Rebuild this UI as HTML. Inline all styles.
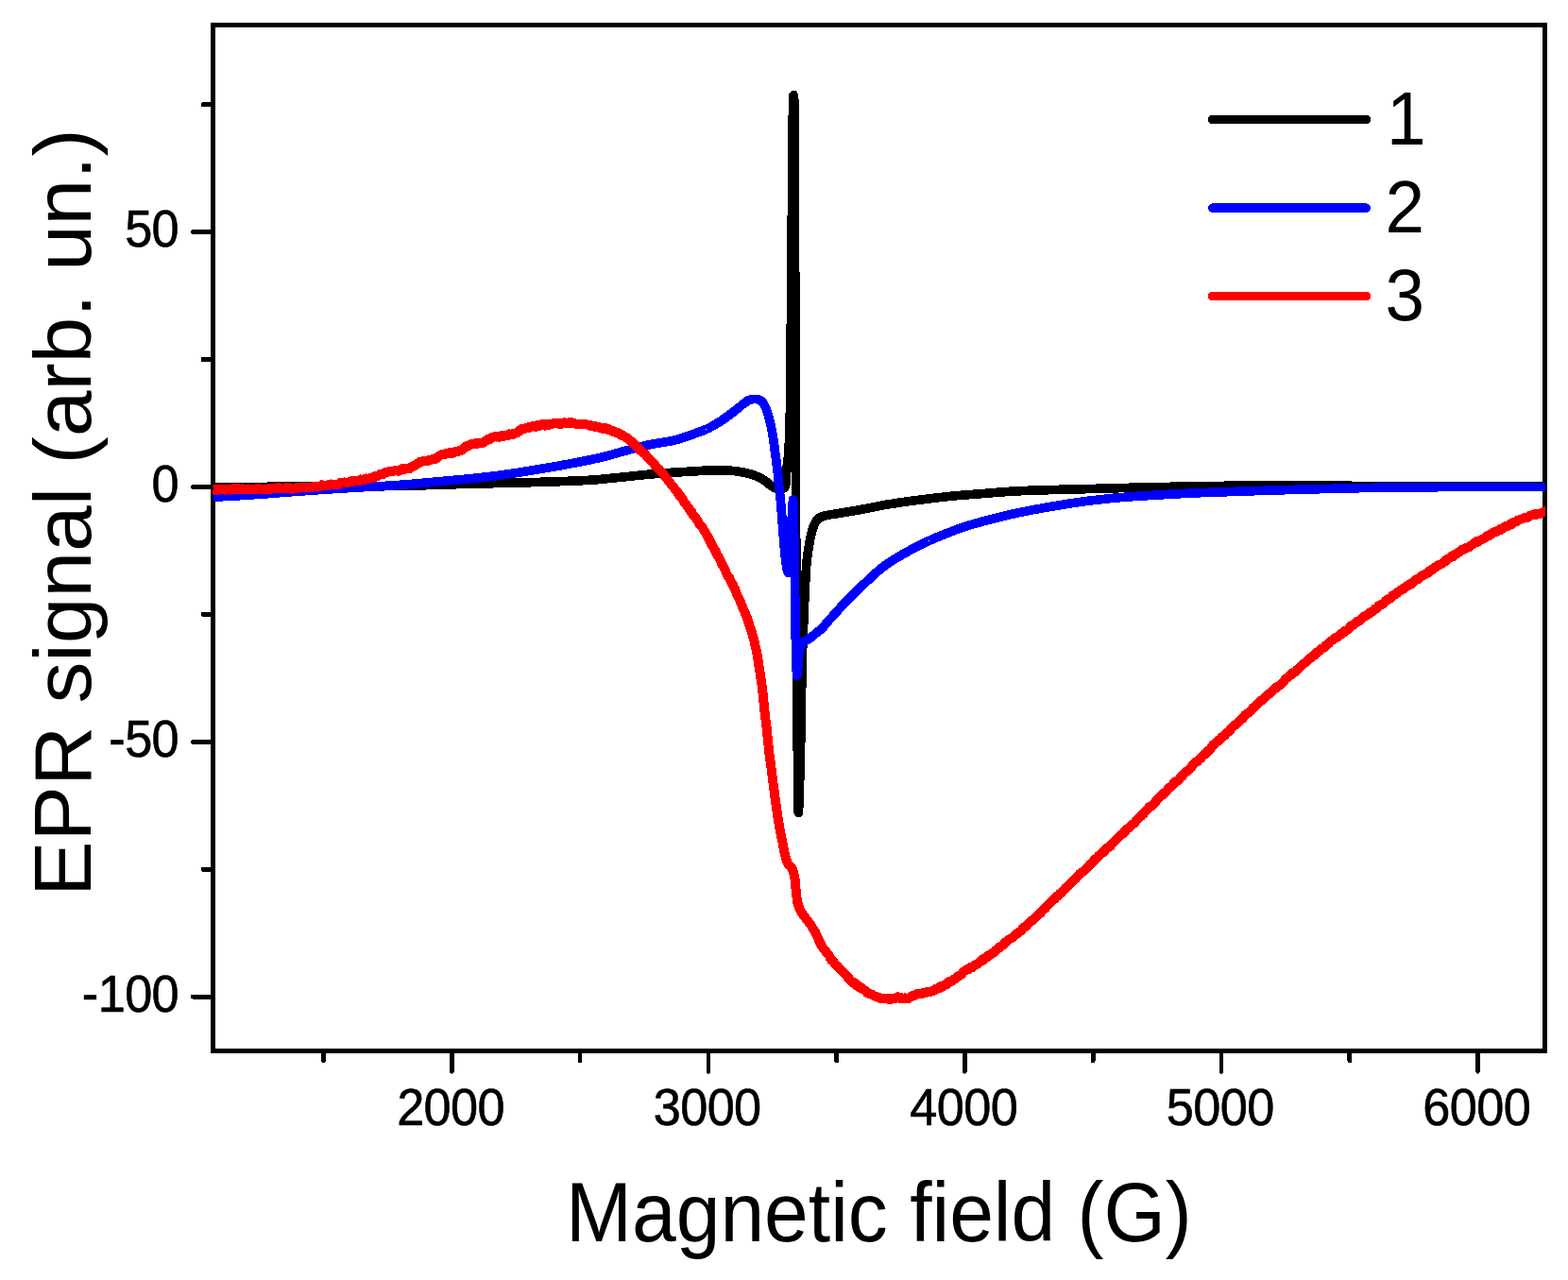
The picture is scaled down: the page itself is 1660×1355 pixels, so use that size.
<!DOCTYPE html>
<html lang="en"><head><meta charset="utf-8"><title>EPR signal vs magnetic field</title>
<style>
html,body{margin:0;padding:0;background:#fff;width:1660px;height:1355px;overflow:hidden}
svg{display:block}
text{font-family:"Liberation Sans",sans-serif;fill:#000}
</style></head><body>
<svg width="1660" height="1355" viewBox="0 0 1660 1355">
<rect width="1660" height="1355" fill="#fff"/>

<g fill="#000" shape-rendering="crispEdges">
<rect x="223.20" y="24.20" width="4.60" height="1090.70"/>
<rect x="1633.20" y="24.20" width="4.60" height="1090.70"/>
<rect x="223.20" y="24.20" width="1414.60" height="5.00"/>
<rect x="223.20" y="1109.90" width="1414.60" height="5.00"/>
</g>
<g stroke="#000" stroke-linecap="round" fill="none" shape-rendering="crispEdges">
<line x1="478.40" y1="1112.40" x2="478.40" y2="1134.50" stroke-width="4.6"/>
<line x1="749.93" y1="1112.40" x2="749.93" y2="1134.50" stroke-width="4.6"/>
<line x1="1021.46" y1="1112.40" x2="1021.46" y2="1134.50" stroke-width="4.6"/>
<line x1="1292.99" y1="1112.40" x2="1292.99" y2="1134.50" stroke-width="4.6"/>
<line x1="1564.52" y1="1112.40" x2="1564.52" y2="1134.50" stroke-width="4.6"/>
<line x1="342.63" y1="1112.40" x2="342.63" y2="1123.20" stroke-width="4.6"/>
<line x1="614.16" y1="1112.40" x2="614.16" y2="1123.20" stroke-width="4.6"/>
<line x1="885.69" y1="1112.40" x2="885.69" y2="1123.20" stroke-width="4.6"/>
<line x1="1157.22" y1="1112.40" x2="1157.22" y2="1123.20" stroke-width="4.6"/>
<line x1="1428.76" y1="1112.40" x2="1428.76" y2="1123.20" stroke-width="4.6"/>
<line x1="225.50" y1="245.70" x2="204.50" y2="245.70" stroke-width="5.0"/>
<line x1="225.50" y1="515.50" x2="204.50" y2="515.50" stroke-width="5.0"/>
<line x1="225.50" y1="785.30" x2="204.50" y2="785.30" stroke-width="5.0"/>
<line x1="225.50" y1="1055.10" x2="204.50" y2="1055.10" stroke-width="5.0"/>
<line x1="225.50" y1="110.80" x2="215.00" y2="110.80" stroke-width="5.0"/>
<line x1="225.50" y1="380.60" x2="215.00" y2="380.60" stroke-width="5.0"/>
<line x1="225.50" y1="650.40" x2="215.00" y2="650.40" stroke-width="5.0"/>
<line x1="225.50" y1="920.20" x2="215.00" y2="920.20" stroke-width="5.0"/>
</g>
<defs><clipPath id="pc"><rect x="225" y="26.7" width="1411" height="1085.7"/></clipPath></defs>
<g clip-path="url(#pc)" fill="none" stroke-linejoin="round" stroke-linecap="butt" stroke-width="9.7" shape-rendering="crispEdges">
<path stroke="#000" d="M225.5,515.5 L226.5,515.5 L227.5,515.5 L228.5,515.5 L229.5,515.5 L230.5,515.5 L231.5,515.5 L232.5,515.5 L233.5,515.5 L234.5,515.5 L235.5,515.5 L236.5,515.5 L237.5,515.5 L238.5,515.5 L239.5,515.5 L240.5,515.5 L241.5,515.5 L242.5,515.5 L243.5,515.5 L244.5,515.5 L245.5,515.5 L246.5,515.5 L247.5,515.5 L248.5,515.5 L249.5,515.5 L250.5,515.5 L251.5,515.4 L252.5,515.4 L253.5,515.4 L254.5,515.4 L255.5,515.4 L256.5,515.4 L257.5,515.4 L258.5,515.4 L259.5,515.4 L260.5,515.4 L261.5,515.4 L262.5,515.4 L263.5,515.4 L264.5,515.4 L265.5,515.4 L266.5,515.4 L267.5,515.4 L268.5,515.4 L269.5,515.4 L270.5,515.4 L271.5,515.4 L272.5,515.4 L273.5,515.4 L274.5,515.4 L275.5,515.4 L276.5,515.4 L277.5,515.4 L278.5,515.4 L279.5,515.4 L280.5,515.4 L281.5,515.4 L282.5,515.4 L283.5,515.3 L284.5,515.3 L285.5,515.3 L286.5,515.3 L287.5,515.3 L288.5,515.3 L289.5,515.3 L290.5,515.3 L291.5,515.3 L292.5,515.3 L293.5,515.3 L294.5,515.3 L295.5,515.3 L296.5,515.3 L297.5,515.3 L298.5,515.3 L299.5,515.3 L300.5,515.3 L301.5,515.3 L302.5,515.3 L303.5,515.3 L304.5,515.3 L305.5,515.3 L306.5,515.3 L307.5,515.3 L308.5,515.2 L309.5,515.2 L310.5,515.2 L311.5,515.2 L312.5,515.2 L313.5,515.2 L314.5,515.2 L315.5,515.2 L316.5,515.2 L317.5,515.2 L318.5,515.2 L319.5,515.2 L320.0,515.2 L320.5,515.2 L321.5,515.2 L322.5,515.2 L323.5,515.2 L324.5,515.2 L325.5,515.2 L326.5,515.2 L327.5,515.2 L328.5,515.2 L329.5,515.2 L330.5,515.2 L331.5,515.1 L332.5,515.1 L333.5,515.1 L334.5,515.1 L335.5,515.1 L336.5,515.1 L337.5,515.1 L338.5,515.1 L339.5,515.1 L340.5,515.1 L341.5,515.1 L342.5,515.1 L343.5,515.1 L344.5,515.1 L345.5,515.1 L346.5,515.1 L347.5,515.1 L348.5,515.1 L349.5,515.1 L350.5,515.1 L351.5,515.1 L352.5,515.0 L353.5,515.0 L354.5,515.0 L355.5,515.0 L356.5,515.0 L357.5,515.0 L358.5,515.0 L359.5,515.0 L360.5,515.0 L361.5,515.0 L362.5,515.0 L363.5,515.0 L364.5,515.0 L365.5,515.0 L366.5,515.0 L367.5,515.0 L368.5,515.0 L369.5,515.0 L370.5,514.9 L371.5,514.9 L372.5,514.9 L373.5,514.9 L374.5,514.9 L375.5,514.9 L376.5,514.9 L377.5,514.9 L378.5,514.9 L379.5,514.9 L380.5,514.9 L381.5,514.9 L382.5,514.9 L383.5,514.9 L384.5,514.8 L385.5,514.8 L386.5,514.8 L387.5,514.8 L388.5,514.8 L389.5,514.8 L390.5,514.8 L391.5,514.8 L392.5,514.8 L393.5,514.8 L394.5,514.8 L395.5,514.8 L396.5,514.7 L397.5,514.7 L398.5,514.7 L399.5,514.7 L400.5,514.7 L401.5,514.7 L402.5,514.7 L403.5,514.7 L404.5,514.7 L405.5,514.7 L406.5,514.7 L407.5,514.6 L408.5,514.6 L409.5,514.6 L410.5,514.6 L411.5,514.6 L412.5,514.6 L413.5,514.6 L414.5,514.6 L415.5,514.6 L416.5,514.5 L417.5,514.5 L418.5,514.5 L419.5,514.5 L420.0,514.5 L420.5,514.5 L421.5,514.5 L422.5,514.5 L423.5,514.4 L424.5,514.4 L425.5,514.4 L426.5,514.4 L427.5,514.4 L428.5,514.3 L429.5,514.3 L430.5,514.3 L431.5,514.3 L432.5,514.2 L433.5,514.2 L434.5,514.2 L435.5,514.2 L436.5,514.1 L437.5,514.1 L438.5,514.1 L439.5,514.0 L440.5,514.0 L441.5,514.0 L442.5,513.9 L443.5,513.9 L444.5,513.9 L445.5,513.8 L446.5,513.8 L447.5,513.8 L448.5,513.7 L449.5,513.7 L450.5,513.7 L451.5,513.6 L452.5,513.6 L453.5,513.5 L454.5,513.5 L455.5,513.5 L456.5,513.4 L457.5,513.4 L458.5,513.4 L459.5,513.3 L460.5,513.3 L461.5,513.3 L462.5,513.2 L463.5,513.2 L464.5,513.2 L465.5,513.1 L466.5,513.1 L467.5,513.1 L468.5,513.0 L469.5,513.0 L470.0,513.0 L470.5,513.0 L471.5,513.0 L472.5,512.9 L473.5,512.9 L474.5,512.9 L475.5,512.8 L476.5,512.8 L477.5,512.8 L478.5,512.8 L479.5,512.7 L480.5,512.7 L481.5,512.7 L482.5,512.7 L483.5,512.6 L484.5,512.6 L485.5,512.6 L486.5,512.6 L487.5,512.5 L488.5,512.5 L489.5,512.5 L490.5,512.5 L491.5,512.4 L492.5,512.4 L493.5,512.4 L494.5,512.4 L495.5,512.3 L496.5,512.3 L497.5,512.3 L498.5,512.2 L499.5,512.2 L500.5,512.2 L501.5,512.2 L502.5,512.1 L503.5,512.1 L504.5,512.1 L505.5,512.1 L506.5,512.0 L507.5,512.0 L508.5,512.0 L509.5,512.0 L510.5,511.9 L511.5,511.9 L512.5,511.9 L513.5,511.9 L514.5,511.8 L515.5,511.8 L516.5,511.8 L517.5,511.8 L518.5,511.7 L519.5,511.7 L520.0,511.7 L520.5,511.7 L521.5,511.7 L522.5,511.6 L523.5,511.6 L524.5,511.6 L525.5,511.6 L526.5,511.5 L527.5,511.5 L528.5,511.5 L529.5,511.5 L530.5,511.4 L531.5,511.4 L532.5,511.4 L533.5,511.4 L534.5,511.3 L535.5,511.3 L536.5,511.3 L537.5,511.3 L538.5,511.2 L539.5,511.2 L540.5,511.2 L541.5,511.2 L542.5,511.1 L543.5,511.1 L544.5,511.1 L545.5,511.1 L546.5,511.0 L547.5,511.0 L548.5,511.0 L549.5,511.0 L550.5,510.9 L551.5,510.9 L552.5,510.9 L553.5,510.9 L554.5,510.8 L555.5,510.8 L556.5,510.8 L557.5,510.8 L558.5,510.7 L559.5,510.7 L560.5,510.7 L561.5,510.7 L562.5,510.6 L563.5,510.6 L564.5,510.6 L565.5,510.5 L566.5,510.5 L567.5,510.5 L568.5,510.4 L569.5,510.4 L570.0,510.4 L570.5,510.4 L571.5,510.4 L572.5,510.3 L573.5,510.3 L574.5,510.3 L575.5,510.2 L576.5,510.2 L577.5,510.2 L578.5,510.1 L579.5,510.1 L580.5,510.1 L581.5,510.0 L582.5,510.0 L583.5,510.0 L584.5,509.9 L585.5,509.9 L586.5,509.9 L587.5,509.8 L588.5,509.8 L589.5,509.8 L590.5,509.7 L591.5,509.7 L592.5,509.7 L593.5,509.6 L594.5,509.6 L595.5,509.6 L596.5,509.5 L597.5,509.5 L598.5,509.5 L599.5,509.4 L600.5,509.4 L601.5,509.3 L602.5,509.3 L603.5,509.3 L604.5,509.2 L605.5,509.2 L606.5,509.1 L607.5,509.1 L608.5,509.1 L609.5,509.0 L610.5,509.0 L611.5,508.9 L612.5,508.9 L613.5,508.8 L614.5,508.8 L615.5,508.7 L616.5,508.7 L617.5,508.6 L618.5,508.6 L619.5,508.5 L620.5,508.5 L621.5,508.4 L622.5,508.4 L623.5,508.3 L624.5,508.2 L625.5,508.2 L626.5,508.1 L627.5,508.1 L628.5,508.0 L629.5,507.9 L630.0,507.9 L630.5,507.9 L631.5,507.8 L632.5,507.7 L633.5,507.6 L634.5,507.5 L635.5,507.4 L636.5,507.3 L637.5,507.2 L638.5,507.1 L639.5,507.0 L640.0,506.9 L640.5,506.9 L641.5,506.8 L642.5,506.7 L643.5,506.6 L644.5,506.5 L645.5,506.4 L646.5,506.3 L647.5,506.2 L648.5,506.1 L649.5,506.0 L650.5,505.9 L651.5,505.8 L652.5,505.7 L653.5,505.6 L654.5,505.5 L655.5,505.4 L656.5,505.3 L657.5,505.2 L658.5,505.1 L659.5,505.0 L660.5,504.9 L661.5,504.8 L662.5,504.7 L663.5,504.6 L664.2,504.5 L664.5,504.5 L665.5,504.4 L666.5,504.3 L667.5,504.2 L668.5,504.1 L669.5,503.9 L670.5,503.8 L671.5,503.7 L672.5,503.6 L673.5,503.5 L674.5,503.4 L675.5,503.3 L676.5,503.2 L677.5,503.1 L678.5,503.0 L679.5,502.9 L680.5,502.8 L681.5,502.7 L682.5,502.6 L683.5,502.5 L684.5,502.4 L685.5,502.3 L686.5,502.2 L687.5,502.1 L688.4,502.0 L688.5,502.0 L689.5,501.9 L690.5,501.8 L691.5,501.7 L692.5,501.7 L693.5,501.6 L694.5,501.5 L695.5,501.4 L696.5,501.3 L697.5,501.3 L698.5,501.2 L699.5,501.1 L700.5,501.0 L701.5,501.0 L702.5,500.9 L703.5,500.8 L704.5,500.7 L705.5,500.7 L706.5,500.6 L707.5,500.5 L708.5,500.5 L709.5,500.4 L710.5,500.3 L711.5,500.3 L712.5,500.2 L712.6,500.2 L713.5,500.1 L714.5,500.1 L715.5,500.0 L716.5,500.0 L717.5,499.9 L718.5,499.8 L719.5,499.8 L720.5,499.7 L721.5,499.7 L722.5,499.6 L723.5,499.6 L724.5,499.5 L725.5,499.5 L726.5,499.4 L727.5,499.3 L728.5,499.3 L729.5,499.2 L730.5,499.2 L731.5,499.1 L732.5,499.1 L733.5,499.0 L734.5,498.9 L735.5,498.9 L736.5,498.8 L736.9,498.8 L737.5,498.8 L738.5,498.7 L739.5,498.6 L740.5,498.5 L741.5,498.5 L742.5,498.4 L743.5,498.3 L744.5,498.2 L745.5,498.2 L746.5,498.1 L747.5,498.1 L748.5,498.0 L749.0,498.0 L749.5,498.0 L750.5,498.0 L751.5,497.9 L752.5,497.9 L753.5,497.9 L754.5,497.9 L755.5,497.9 L756.5,497.8 L757.5,497.8 L758.5,497.8 L759.5,497.8 L760.5,497.8 L761.1,497.8 L761.5,497.8 L762.5,497.8 L763.5,497.8 L764.5,497.8 L765.5,497.9 L766.5,497.9 L767.5,497.9 L768.5,498.0 L769.5,498.0 L770.5,498.1 L771.5,498.1 L772.5,498.2 L773.2,498.2 L773.5,498.2 L774.5,498.3 L775.5,498.4 L776.5,498.5 L777.5,498.6 L778.5,498.7 L779.5,498.9 L780.5,499.0 L781.5,499.2 L782.5,499.3 L783.5,499.5 L784.5,499.7 L785.3,499.8 L785.5,499.8 L786.5,500.0 L787.5,500.2 L788.5,500.4 L789.5,500.6 L790.5,500.9 L791.5,501.1 L792.5,501.4 L793.5,501.6 L794.5,501.9 L795.5,502.2 L796.5,502.5 L797.4,502.8 L797.5,502.8 L798.5,503.2 L799.5,503.6 L800.5,504.0 L801.5,504.4 L802.5,504.8 L803.5,505.3 L804.5,505.8 L805.5,506.4 L806.5,506.9 L807.5,507.5 L808.5,508.1 L809.5,508.7 L810.5,509.4 L811.5,510.2 L812.5,511.0 L813.5,511.9 L814.5,512.8 L815.5,513.5 L816.5,514.2 L817.5,514.9 L818.5,515.6 L819.5,516.2 L820.4,516.5 L820.5,516.5 L821.5,516.8 L822.5,517.0 L823.5,517.3 L824.5,517.4 L825.5,517.5 L826.0,517.5 L826.5,517.5 L827.5,517.4 L828.5,517.1 L829.5,516.7 L830.0,516.5 L830.5,516.1 L831.5,513.9 L832.0,512.0 L832.5,502.8 L832.8,497.0 L833.5,490.9 L834.5,483.0 L835.5,466.7 L835.7,462.0 L836.5,432.4 L836.8,415.0 L837.5,326.6 L837.7,300.0 L838.5,214.1 L838.6,200.0 L838.9,140.0 L839.5,117.4 L839.7,112.0 L840.1,100.7 L840.5,102.0 L841.1,112.0 L841.3,250.0 L841.5,276.2 L842.2,330.0 L842.4,500.0 L842.5,535.1 L842.8,600.0 L843.5,714.9 L843.8,750.0 L844.5,806.0 L844.7,820.0 L845.3,860.3 L845.5,858.7 L846.2,840.0 L846.5,831.6 L847.4,800.0 L847.5,795.6 L848.5,736.1 L849.2,700.0 L849.5,690.2 L850.5,664.8 L850.7,660.0 L851.5,640.6 L852.5,618.9 L852.6,617.0 L853.5,601.5 L853.8,597.7 L854.5,590.9 L855.5,583.4 L856.3,578.4 L856.5,577.2 L857.5,571.5 L858.5,566.7 L859.2,563.8 L859.5,562.7 L860.5,559.3 L861.5,556.5 L862.3,554.7 L862.5,554.3 L863.5,552.6 L864.5,551.1 L865.5,550.0 L866.0,549.5 L866.5,549.1 L867.5,548.3 L868.5,547.6 L869.5,547.1 L870.3,546.8 L870.5,546.7 L871.5,546.4 L872.5,546.2 L873.5,545.9 L874.5,545.7 L875.5,545.5 L876.5,545.3 L877.5,545.1 L878.5,544.9 L879.5,544.7 L880.5,544.6 L881.5,544.5 L882.5,544.3 L883.5,544.2 L884.5,544.0 L885.5,543.9 L886.5,543.7 L887.5,543.6 L888.4,543.4 L888.5,543.4 L889.5,543.2 L890.5,543.0 L891.5,542.8 L892.5,542.7 L893.5,542.5 L894.5,542.3 L895.5,542.2 L896.5,542.0 L897.5,541.8 L898.5,541.6 L899.5,541.5 L900.5,541.3 L901.5,541.1 L902.5,541.0 L903.5,540.8 L904.5,540.6 L905.5,540.5 L906.5,540.3 L907.5,540.1 L908.5,539.9 L909.5,539.8 L910.5,539.6 L911.5,539.4 L912.5,539.2 L912.6,539.2 L913.5,539.0 L914.5,538.8 L915.5,538.7 L916.5,538.5 L917.5,538.3 L918.5,538.1 L919.5,537.9 L920.5,537.7 L921.5,537.5 L922.5,537.3 L923.5,537.1 L924.5,536.9 L925.5,536.7 L926.5,536.5 L927.5,536.3 L928.5,536.1 L929.5,535.9 L930.5,535.7 L931.5,535.5 L932.5,535.3 L933.5,535.1 L934.5,534.9 L935.5,534.7 L936.5,534.6 L936.9,534.5 L937.5,534.4 L938.5,534.2 L939.5,534.1 L940.5,533.9 L941.5,533.7 L942.5,533.6 L943.5,533.4 L944.5,533.3 L945.5,533.1 L946.5,532.9 L947.5,532.8 L948.5,532.6 L949.5,532.5 L950.5,532.3 L951.5,532.2 L952.5,532.0 L953.5,531.9 L954.5,531.7 L955.5,531.6 L956.5,531.4 L957.5,531.3 L958.5,531.2 L959.5,531.0 L960.5,530.9 L961.1,530.8 L961.5,530.7 L962.5,530.6 L963.5,530.5 L964.5,530.3 L965.5,530.2 L966.5,530.1 L967.5,529.9 L968.5,529.8 L969.5,529.7 L970.5,529.5 L971.5,529.4 L972.5,529.3 L973.5,529.2 L974.5,529.0 L975.5,528.9 L976.5,528.8 L977.5,528.6 L978.5,528.5 L979.5,528.4 L980.5,528.3 L981.5,528.2 L982.5,528.0 L983.5,527.9 L984.5,527.8 L985.3,527.7 L985.5,527.7 L986.5,527.6 L987.5,527.4 L988.5,527.3 L989.5,527.2 L990.5,527.1 L991.5,527.0 L992.5,526.8 L993.5,526.7 L994.5,526.6 L995.5,526.5 L996.5,526.4 L997.5,526.3 L998.5,526.1 L999.5,526.0 L1000.5,525.9 L1001.5,525.8 L1002.5,525.7 L1003.5,525.6 L1004.5,525.5 L1005.5,525.4 L1006.5,525.3 L1007.5,525.2 L1008.5,525.1 L1009.5,525.0 L1010.5,524.9 L1011.5,524.8 L1012.5,524.7 L1013.5,524.6 L1014.5,524.6 L1015.5,524.5 L1016.5,524.4 L1017.5,524.3 L1018.5,524.2 L1019.5,524.1 L1020.5,524.1 L1021.5,524.0 L1022.5,523.9 L1023.5,523.8 L1024.5,523.8 L1025.5,523.7 L1026.5,523.6 L1027.5,523.5 L1028.5,523.5 L1029.5,523.4 L1030.5,523.3 L1031.5,523.2 L1032.5,523.2 L1033.5,523.1 L1034.5,523.0 L1035.5,522.9 L1036.5,522.9 L1037.5,522.8 L1038.5,522.7 L1039.5,522.6 L1040.0,522.6 L1040.5,522.6 L1041.5,522.5 L1042.5,522.4 L1043.5,522.3 L1044.5,522.2 L1045.5,522.2 L1046.5,522.1 L1047.5,522.0 L1048.5,521.9 L1049.5,521.8 L1050.5,521.7 L1051.5,521.6 L1052.5,521.6 L1053.5,521.5 L1054.5,521.4 L1055.5,521.3 L1056.5,521.2 L1057.5,521.1 L1058.5,521.1 L1059.5,521.0 L1060.5,520.9 L1061.5,520.8 L1062.5,520.7 L1063.5,520.7 L1064.5,520.6 L1065.5,520.5 L1066.5,520.4 L1067.5,520.4 L1068.5,520.3 L1069.5,520.2 L1070.5,520.2 L1071.5,520.1 L1072.5,520.0 L1073.5,520.0 L1074.5,519.9 L1075.5,519.9 L1076.5,519.8 L1077.1,519.8 L1077.5,519.8 L1078.5,519.7 L1079.5,519.7 L1080.5,519.7 L1081.5,519.6 L1082.5,519.6 L1083.5,519.5 L1084.5,519.5 L1085.5,519.4 L1086.5,519.4 L1087.5,519.4 L1088.5,519.3 L1089.5,519.3 L1090.5,519.3 L1091.5,519.2 L1092.5,519.2 L1093.5,519.2 L1094.5,519.1 L1095.5,519.1 L1096.5,519.0 L1097.5,519.0 L1098.5,519.0 L1099.5,519.0 L1100.5,518.9 L1101.5,518.9 L1102.5,518.9 L1103.5,518.8 L1104.5,518.8 L1105.5,518.8 L1106.5,518.7 L1107.5,518.7 L1108.5,518.7 L1109.5,518.7 L1110.5,518.6 L1111.5,518.6 L1112.5,518.6 L1113.5,518.5 L1114.5,518.5 L1115.5,518.5 L1116.5,518.5 L1117.5,518.4 L1118.5,518.4 L1119.5,518.4 L1120.5,518.4 L1121.5,518.3 L1122.5,518.3 L1123.5,518.3 L1124.5,518.3 L1125.5,518.2 L1126.5,518.2 L1127.5,518.2 L1128.5,518.2 L1129.5,518.1 L1130.5,518.1 L1131.5,518.1 L1132.5,518.1 L1133.5,518.0 L1134.5,518.0 L1135.5,518.0 L1136.5,518.0 L1137.5,517.9 L1138.5,517.9 L1139.5,517.9 L1140.5,517.9 L1141.5,517.8 L1142.5,517.8 L1143.5,517.8 L1144.5,517.8 L1145.5,517.7 L1146.5,517.7 L1147.5,517.7 L1148.5,517.7 L1149.5,517.6 L1150.5,517.6 L1151.5,517.6 L1152.5,517.5 L1153.5,517.5 L1154.2,517.5 L1154.5,517.5 L1155.5,517.5 L1156.5,517.4 L1157.5,517.4 L1158.5,517.4 L1159.5,517.4 L1160.5,517.3 L1161.5,517.3 L1162.5,517.3 L1163.5,517.2 L1164.5,517.2 L1165.5,517.2 L1166.5,517.2 L1167.5,517.1 L1168.5,517.1 L1169.5,517.1 L1170.5,517.0 L1171.5,517.0 L1172.5,517.0 L1173.5,517.0 L1174.5,516.9 L1175.5,516.9 L1176.5,516.9 L1177.5,516.8 L1178.5,516.8 L1179.5,516.8 L1180.5,516.8 L1181.5,516.7 L1182.5,516.7 L1183.5,516.7 L1184.5,516.6 L1185.5,516.6 L1186.5,516.6 L1187.5,516.6 L1188.5,516.5 L1189.5,516.5 L1190.5,516.5 L1191.5,516.5 L1192.5,516.4 L1193.5,516.4 L1194.5,516.4 L1195.5,516.3 L1196.5,516.3 L1197.5,516.3 L1198.5,516.3 L1199.5,516.2 L1200.5,516.2 L1201.5,516.2 L1202.5,516.2 L1203.5,516.1 L1204.5,516.1 L1205.5,516.1 L1206.5,516.1 L1207.5,516.0 L1208.5,516.0 L1209.5,516.0 L1210.5,516.0 L1211.5,515.9 L1212.5,515.9 L1213.5,515.9 L1214.5,515.9 L1215.5,515.8 L1216.5,515.8 L1217.5,515.8 L1218.5,515.8 L1219.5,515.7 L1220.5,515.7 L1221.5,515.7 L1222.5,515.7 L1223.5,515.7 L1224.5,515.6 L1225.5,515.6 L1226.5,515.6 L1227.5,515.6 L1228.5,515.6 L1229.5,515.5 L1230.5,515.5 L1231.3,515.5 L1231.5,515.5 L1232.5,515.5 L1233.5,515.5 L1234.5,515.4 L1235.5,515.4 L1236.5,515.4 L1237.5,515.4 L1238.5,515.4 L1239.5,515.3 L1240.5,515.3 L1241.5,515.3 L1242.5,515.3 L1243.5,515.3 L1244.5,515.2 L1245.5,515.2 L1246.5,515.2 L1247.5,515.2 L1248.5,515.1 L1249.5,515.1 L1250.5,515.1 L1251.5,515.1 L1252.5,515.1 L1253.5,515.0 L1254.5,515.0 L1255.5,515.0 L1256.5,515.0 L1257.5,515.0 L1258.5,514.9 L1259.5,514.9 L1260.5,514.9 L1261.5,514.9 L1262.5,514.9 L1263.5,514.8 L1264.5,514.8 L1265.5,514.8 L1266.5,514.8 L1267.5,514.8 L1268.5,514.7 L1269.5,514.7 L1270.5,514.7 L1271.5,514.7 L1272.5,514.7 L1273.5,514.6 L1274.5,514.6 L1275.5,514.6 L1276.5,514.6 L1277.5,514.6 L1278.5,514.6 L1279.5,514.5 L1280.5,514.5 L1281.5,514.5 L1282.5,514.5 L1283.5,514.5 L1284.5,514.5 L1285.5,514.5 L1286.5,514.4 L1287.5,514.4 L1288.5,514.4 L1289.5,514.4 L1290.5,514.4 L1291.5,514.4 L1292.5,514.4 L1293.5,514.4 L1294.5,514.4 L1295.5,514.4 L1296.5,514.3 L1297.5,514.3 L1298.5,514.3 L1299.5,514.3 L1300.5,514.3 L1301.5,514.3 L1302.5,514.3 L1303.5,514.3 L1304.5,514.3 L1305.5,514.3 L1306.5,514.3 L1307.5,514.3 L1308.4,514.3 L1308.5,514.3 L1309.5,514.3 L1310.5,514.3 L1311.5,514.3 L1312.5,514.3 L1313.5,514.3 L1314.5,514.3 L1315.5,514.3 L1316.5,514.3 L1317.5,514.3 L1318.5,514.3 L1319.5,514.3 L1320.5,514.3 L1321.5,514.3 L1322.5,514.3 L1323.5,514.3 L1324.5,514.3 L1325.5,514.3 L1326.5,514.3 L1327.5,514.3 L1328.5,514.3 L1329.5,514.3 L1330.5,514.3 L1331.5,514.3 L1332.5,514.3 L1333.5,514.3 L1334.5,514.3 L1335.5,514.3 L1336.5,514.3 L1337.5,514.3 L1338.5,514.3 L1339.5,514.3 L1340.5,514.3 L1341.5,514.3 L1342.5,514.3 L1343.5,514.3 L1344.5,514.3 L1345.5,514.3 L1346.5,514.3 L1347.5,514.3 L1348.5,514.3 L1349.5,514.3 L1350.5,514.3 L1351.5,514.3 L1352.5,514.3 L1353.5,514.3 L1354.5,514.3 L1355.5,514.3 L1356.5,514.3 L1357.5,514.3 L1358.5,514.3 L1359.5,514.3 L1360.5,514.3 L1361.5,514.3 L1362.5,514.3 L1363.5,514.3 L1364.5,514.3 L1365.5,514.3 L1366.5,514.3 L1367.5,514.3 L1368.5,514.3 L1369.5,514.3 L1370.5,514.3 L1371.5,514.3 L1372.5,514.3 L1373.5,514.3 L1374.5,514.3 L1375.5,514.3 L1376.5,514.3 L1377.5,514.3 L1378.5,514.3 L1379.5,514.3 L1380.5,514.3 L1381.5,514.3 L1382.5,514.3 L1383.5,514.3 L1384.5,514.3 L1385.5,514.3 L1386.5,514.3 L1387.5,514.3 L1388.5,514.3 L1389.5,514.3 L1390.5,514.3 L1391.5,514.3 L1392.5,514.3 L1393.5,514.3 L1394.5,514.3 L1395.5,514.3 L1396.5,514.3 L1397.5,514.3 L1398.5,514.3 L1399.5,514.3 L1400.0,514.3 L1400.5,514.3 L1401.5,514.3 L1402.5,514.3 L1403.5,514.3 L1404.5,514.3 L1405.5,514.3 L1406.5,514.3 L1407.5,514.3 L1408.5,514.3 L1409.5,514.3 L1410.5,514.3 L1411.5,514.3 L1412.5,514.3 L1413.5,514.3 L1414.5,514.3 L1415.5,514.3 L1416.5,514.3 L1417.5,514.3 L1418.5,514.3 L1419.5,514.3 L1420.5,514.3 L1421.5,514.3 L1422.5,514.3 L1423.5,514.3 L1424.5,514.3 L1425.5,514.3 L1426.5,514.3 L1427.5,514.3 L1428.5,514.3 L1429.5,514.3 L1430.5,514.3 L1431.5,514.4 L1432.5,514.4 L1433.5,514.4 L1434.5,514.4 L1435.5,514.4 L1436.5,514.4 L1437.5,514.4 L1438.5,514.4 L1439.5,514.4 L1440.5,514.4 L1441.5,514.4 L1442.5,514.4 L1443.5,514.4 L1444.5,514.4 L1445.5,514.4 L1446.5,514.4 L1447.5,514.4 L1448.5,514.4 L1449.5,514.4 L1450.5,514.4 L1451.5,514.4 L1452.5,514.4 L1453.5,514.4 L1454.5,514.4 L1455.5,514.4 L1456.5,514.4 L1457.5,514.4 L1458.5,514.4 L1459.5,514.4 L1460.5,514.5 L1461.5,514.5 L1462.5,514.5 L1463.5,514.5 L1464.5,514.5 L1465.5,514.5 L1466.5,514.5 L1467.5,514.5 L1468.5,514.5 L1469.5,514.5 L1470.5,514.5 L1471.5,514.5 L1472.5,514.5 L1473.5,514.5 L1474.5,514.5 L1475.5,514.5 L1476.5,514.5 L1477.5,514.5 L1478.5,514.5 L1479.5,514.5 L1480.5,514.5 L1481.5,514.5 L1482.5,514.5 L1483.5,514.5 L1484.5,514.5 L1485.5,514.6 L1486.5,514.6 L1487.5,514.6 L1488.5,514.6 L1489.5,514.6 L1490.5,514.6 L1491.5,514.6 L1492.5,514.6 L1493.5,514.6 L1494.5,514.6 L1495.5,514.6 L1496.5,514.6 L1497.5,514.6 L1498.5,514.6 L1499.5,514.6 L1500.0,514.6 L1500.5,514.6 L1501.5,514.6 L1502.5,514.6 L1503.5,514.6 L1504.5,514.6 L1505.5,514.6 L1506.5,514.6 L1507.5,514.6 L1508.5,514.6 L1509.5,514.6 L1510.5,514.6 L1511.5,514.6 L1512.5,514.6 L1513.5,514.6 L1514.5,514.6 L1515.5,514.6 L1516.5,514.6 L1517.5,514.7 L1518.5,514.7 L1519.5,514.7 L1520.5,514.7 L1521.5,514.7 L1522.5,514.7 L1523.5,514.7 L1524.5,514.7 L1525.5,514.7 L1526.5,514.7 L1527.5,514.7 L1528.5,514.7 L1529.5,514.7 L1530.5,514.7 L1531.5,514.7 L1532.5,514.7 L1533.5,514.7 L1534.5,514.7 L1535.5,514.7 L1536.5,514.7 L1537.5,514.7 L1538.5,514.7 L1539.5,514.7 L1540.5,514.7 L1541.5,514.7 L1542.5,514.7 L1543.5,514.7 L1544.5,514.7 L1545.5,514.7 L1546.5,514.7 L1547.5,514.7 L1548.5,514.7 L1549.5,514.7 L1550.5,514.7 L1551.5,514.8 L1552.5,514.8 L1553.5,514.8 L1554.5,514.8 L1555.5,514.8 L1556.5,514.8 L1557.5,514.8 L1558.5,514.8 L1559.5,514.8 L1560.5,514.8 L1561.5,514.8 L1562.5,514.8 L1563.5,514.8 L1564.5,514.8 L1565.5,514.8 L1566.5,514.8 L1567.5,514.8 L1568.5,514.8 L1569.5,514.8 L1570.5,514.8 L1571.5,514.8 L1572.5,514.8 L1573.5,514.8 L1574.5,514.8 L1575.5,514.8 L1576.5,514.8 L1577.5,514.8 L1578.5,514.8 L1579.5,514.8 L1580.5,514.8 L1581.5,514.8 L1582.5,514.8 L1583.5,514.8 L1584.5,514.8 L1585.5,514.9 L1586.5,514.9 L1587.5,514.9 L1588.5,514.9 L1589.5,514.9 L1590.5,514.9 L1591.5,514.9 L1592.5,514.9 L1593.5,514.9 L1594.5,514.9 L1595.5,514.9 L1596.5,514.9 L1597.5,514.9 L1598.5,514.9 L1599.5,514.9 L1600.5,514.9 L1601.5,514.9 L1602.5,514.9 L1603.5,514.9 L1604.5,514.9 L1605.5,514.9 L1606.5,514.9 L1607.5,514.9 L1608.5,514.9 L1609.5,514.9 L1610.5,514.9 L1611.5,514.9 L1612.5,514.9 L1613.5,514.9 L1614.5,514.9 L1615.5,514.9 L1616.5,514.9 L1617.5,514.9 L1618.5,514.9 L1619.5,515.0 L1620.5,515.0 L1621.5,515.0 L1622.5,515.0 L1623.5,515.0 L1624.5,515.0 L1625.5,515.0 L1626.5,515.0 L1627.5,515.0 L1628.5,515.0 L1629.5,515.0 L1630.5,515.0 L1631.5,515.0 L1632.5,515.0 L1633.5,515.0 L1634.5,515.0 L1635.5,515.0 L1636.0,515.0"/>
<path stroke="#0000ff" d="M225.5,526.2 L226.5,526.1 L227.5,526.1 L228.5,526.0 L229.5,526.0 L230.5,525.9 L231.5,525.9 L232.5,525.8 L233.5,525.8 L234.5,525.7 L235.5,525.7 L236.5,525.6 L237.5,525.6 L238.5,525.5 L239.5,525.5 L240.5,525.4 L241.5,525.4 L242.5,525.3 L243.5,525.2 L244.5,525.2 L245.5,525.1 L246.5,525.1 L247.5,525.0 L248.5,524.9 L249.5,524.9 L250.5,524.8 L251.5,524.8 L252.5,524.7 L253.5,524.7 L254.5,524.6 L255.5,524.5 L256.5,524.5 L257.5,524.4 L258.5,524.3 L259.5,524.3 L260.5,524.2 L261.5,524.2 L262.5,524.1 L263.5,524.0 L264.5,524.0 L265.5,523.9 L266.5,523.8 L267.5,523.8 L268.5,523.7 L269.5,523.6 L270.2,523.6 L270.5,523.6 L271.5,523.5 L272.5,523.4 L273.5,523.4 L274.5,523.3 L275.5,523.2 L276.5,523.2 L277.5,523.1 L278.5,523.0 L279.5,523.0 L280.5,522.9 L281.5,522.8 L282.5,522.7 L283.5,522.7 L284.5,522.6 L285.5,522.5 L286.5,522.4 L287.5,522.3 L288.5,522.3 L289.5,522.2 L290.5,522.1 L291.5,522.0 L292.5,522.0 L293.5,521.9 L294.5,521.8 L295.5,521.7 L296.5,521.6 L297.5,521.6 L298.5,521.5 L299.5,521.4 L300.5,521.3 L301.5,521.2 L302.5,521.2 L303.5,521.1 L304.5,521.0 L305.5,520.9 L306.5,520.8 L307.5,520.8 L308.5,520.7 L309.5,520.6 L310.5,520.5 L311.5,520.5 L312.5,520.4 L313.5,520.3 L314.5,520.2 L315.5,520.2 L316.5,520.1 L317.5,520.0 L318.5,519.9 L319.5,519.9 L320.4,519.8 L320.5,519.8 L321.5,519.7 L322.5,519.7 L323.5,519.6 L324.5,519.5 L325.5,519.4 L326.5,519.4 L327.5,519.3 L328.5,519.2 L329.5,519.2 L330.5,519.1 L331.5,519.0 L332.5,519.0 L333.5,518.9 L334.5,518.8 L335.5,518.8 L336.5,518.7 L337.5,518.6 L338.5,518.6 L339.5,518.5 L340.5,518.4 L341.5,518.4 L342.5,518.3 L343.5,518.2 L344.5,518.2 L345.5,518.1 L346.5,518.0 L347.5,518.0 L348.5,517.9 L349.5,517.8 L350.5,517.8 L351.5,517.7 L352.5,517.6 L353.5,517.6 L354.5,517.5 L355.5,517.5 L356.5,517.4 L357.5,517.3 L358.5,517.3 L359.5,517.2 L360.5,517.1 L361.5,517.1 L362.5,517.0 L363.5,516.9 L364.5,516.9 L365.5,516.8 L366.5,516.8 L367.5,516.7 L368.5,516.6 L369.5,516.6 L370.5,516.5 L371.5,516.4 L372.5,516.4 L373.5,516.3 L374.5,516.3 L375.5,516.2 L376.5,516.1 L377.5,516.1 L378.5,516.0 L379.5,516.0 L380.5,515.9 L381.5,515.8 L382.5,515.8 L383.5,515.7 L384.5,515.7 L385.5,515.6 L386.5,515.6 L387.5,515.5 L388.5,515.4 L389.5,515.4 L390.5,515.3 L391.5,515.3 L392.5,515.2 L393.5,515.2 L394.5,515.1 L395.5,515.1 L396.5,515.0 L397.5,514.9 L398.5,514.9 L399.5,514.8 L400.5,514.8 L401.5,514.7 L402.5,514.7 L403.5,514.6 L404.5,514.5 L405.5,514.5 L406.5,514.4 L407.5,514.4 L408.5,514.3 L409.5,514.2 L410.5,514.2 L411.5,514.1 L412.5,514.0 L413.5,514.0 L414.5,513.9 L415.5,513.9 L416.5,513.8 L417.5,513.7 L418.5,513.7 L419.5,513.6 L420.5,513.5 L420.7,513.5 L421.5,513.4 L422.5,513.4 L423.5,513.3 L424.5,513.2 L425.5,513.2 L426.5,513.1 L427.5,513.0 L428.5,512.9 L429.5,512.8 L430.5,512.8 L431.5,512.7 L432.5,512.6 L433.5,512.5 L434.5,512.4 L435.5,512.4 L436.5,512.3 L437.5,512.2 L438.5,512.1 L439.5,512.0 L440.5,511.9 L441.5,511.9 L442.5,511.8 L443.5,511.7 L444.5,511.6 L445.5,511.5 L446.5,511.4 L447.5,511.3 L448.5,511.3 L449.5,511.2 L450.5,511.1 L451.5,511.0 L452.5,510.9 L453.5,510.8 L454.5,510.7 L455.5,510.6 L456.5,510.5 L457.5,510.4 L458.5,510.3 L459.5,510.3 L460.5,510.2 L461.5,510.1 L462.5,510.0 L463.5,509.9 L464.5,509.8 L465.5,509.7 L466.5,509.6 L467.5,509.5 L468.5,509.4 L469.5,509.3 L470.5,509.2 L470.9,509.2 L471.5,509.1 L472.5,509.1 L473.5,509.0 L474.5,508.9 L475.5,508.8 L476.5,508.7 L477.5,508.6 L478.5,508.5 L479.5,508.4 L480.5,508.3 L481.5,508.2 L482.5,508.1 L483.5,508.0 L484.5,507.9 L485.5,507.8 L486.5,507.7 L487.5,507.6 L488.5,507.6 L489.5,507.5 L490.5,507.4 L491.5,507.3 L492.5,507.2 L493.5,507.1 L494.5,507.0 L495.5,506.9 L496.5,506.8 L497.5,506.7 L498.5,506.6 L499.5,506.5 L500.5,506.4 L501.5,506.3 L502.5,506.2 L503.5,506.1 L504.5,506.0 L505.5,505.9 L506.5,505.8 L507.5,505.6 L508.5,505.5 L509.5,505.4 L510.5,505.3 L511.5,505.2 L512.5,505.1 L513.5,505.0 L514.5,504.9 L515.5,504.8 L516.5,504.6 L517.5,504.5 L518.5,504.4 L519.5,504.3 L520.5,504.2 L521.1,504.1 L521.5,504.1 L522.5,503.9 L523.5,503.8 L524.5,503.7 L525.5,503.6 L526.5,503.4 L527.5,503.3 L528.5,503.2 L529.5,503.0 L530.5,502.9 L531.5,502.8 L532.5,502.6 L533.5,502.5 L534.5,502.3 L535.5,502.2 L536.5,502.1 L537.5,501.9 L538.5,501.8 L539.5,501.6 L540.5,501.5 L541.5,501.3 L542.5,501.2 L543.5,501.0 L544.5,500.9 L545.5,500.7 L546.5,500.6 L547.5,500.4 L548.5,500.3 L549.5,500.1 L550.5,500.0 L551.5,499.8 L552.5,499.7 L553.5,499.5 L554.5,499.3 L555.5,499.2 L556.5,499.0 L557.5,498.9 L558.5,498.7 L559.5,498.5 L560.5,498.4 L561.5,498.2 L562.5,498.0 L563.5,497.9 L564.5,497.7 L565.5,497.6 L566.5,497.4 L567.5,497.2 L568.5,497.1 L569.5,496.9 L570.5,496.7 L571.3,496.6 L571.5,496.6 L572.5,496.4 L573.5,496.2 L574.5,496.1 L575.5,495.9 L576.5,495.7 L577.5,495.6 L578.5,495.4 L579.5,495.2 L580.5,495.0 L581.5,494.9 L582.5,494.7 L583.5,494.5 L584.5,494.4 L585.5,494.2 L586.5,494.0 L587.5,493.8 L588.5,493.6 L589.5,493.5 L590.5,493.3 L591.5,493.1 L592.5,492.9 L593.5,492.8 L594.5,492.6 L595.5,492.4 L596.5,492.2 L597.5,492.0 L598.5,491.8 L599.5,491.7 L600.5,491.5 L601.5,491.3 L602.5,491.1 L603.5,490.9 L604.5,490.7 L605.5,490.5 L606.5,490.3 L607.5,490.1 L608.5,489.9 L609.5,489.8 L610.5,489.6 L611.5,489.4 L612.5,489.2 L613.5,489.0 L614.5,488.8 L615.5,488.6 L616.5,488.4 L617.5,488.2 L618.5,488.0 L619.5,487.8 L620.5,487.6 L621.5,487.4 L622.5,487.2 L623.5,487.0 L624.5,486.8 L625.5,486.5 L626.5,486.3 L627.5,486.1 L628.5,485.9 L629.5,485.7 L630.0,485.6 L630.5,485.5 L631.5,485.3 L632.5,485.1 L633.5,484.8 L634.5,484.6 L635.5,484.4 L636.5,484.1 L637.5,483.9 L638.5,483.7 L639.5,483.4 L640.0,483.3 L640.5,483.2 L641.5,482.9 L642.5,482.7 L643.5,482.4 L644.5,482.1 L645.5,481.9 L646.5,481.6 L647.5,481.3 L648.5,481.0 L649.5,480.7 L650.5,480.5 L651.5,480.2 L652.5,479.9 L653.5,479.6 L654.5,479.3 L655.5,479.0 L656.5,478.7 L657.5,478.4 L658.5,478.2 L659.5,477.9 L660.5,477.6 L661.5,477.3 L662.5,477.1 L663.5,476.8 L664.2,476.6 L664.5,476.5 L665.5,476.3 L666.5,476.0 L667.5,475.7 L668.5,475.5 L669.5,475.2 L670.5,474.9 L671.5,474.7 L672.5,474.4 L673.5,474.2 L674.5,473.9 L675.5,473.6 L676.5,473.4 L677.5,473.1 L678.5,472.9 L679.5,472.6 L680.5,472.4 L681.5,472.1 L682.5,471.9 L683.5,471.7 L684.5,471.4 L685.5,471.2 L686.5,471.0 L687.5,470.8 L688.4,470.6 L688.5,470.6 L689.5,470.4 L690.5,470.2 L691.5,470.0 L692.5,469.8 L693.5,469.6 L694.5,469.5 L695.5,469.3 L696.5,469.1 L697.5,469.0 L698.5,468.8 L699.5,468.7 L700.5,468.5 L701.5,468.4 L702.5,468.2 L703.5,468.0 L704.5,467.9 L705.5,467.7 L706.5,467.5 L707.5,467.3 L708.5,467.2 L709.5,467.0 L710.5,466.8 L711.5,466.5 L712.5,466.3 L712.6,466.3 L713.5,466.1 L714.5,465.8 L715.5,465.6 L716.5,465.3 L717.5,465.0 L718.5,464.8 L719.5,464.5 L720.5,464.2 L721.5,463.8 L722.5,463.5 L723.5,463.2 L724.5,462.9 L725.5,462.5 L726.5,462.2 L727.5,461.8 L728.5,461.5 L729.5,461.1 L730.5,460.8 L731.5,460.4 L732.5,460.1 L733.5,459.7 L734.5,459.4 L735.5,459.0 L736.5,458.6 L736.9,458.5 L737.5,458.3 L738.5,457.9 L739.5,457.6 L740.5,457.2 L741.5,456.9 L742.5,456.5 L743.5,456.1 L744.5,455.7 L745.5,455.3 L746.5,454.9 L747.5,454.5 L748.5,454.0 L749.0,453.8 L749.5,453.6 L750.5,453.1 L751.5,452.6 L752.5,452.0 L753.5,451.5 L754.5,450.9 L755.5,450.3 L756.5,449.7 L757.5,449.1 L758.5,448.5 L759.5,447.9 L760.0,447.6 L760.5,447.3 L761.5,446.7 L762.5,446.0 L763.5,445.4 L764.5,444.7 L765.5,444.0 L766.5,443.3 L767.5,442.7 L768.5,442.0 L769.5,441.2 L769.7,441.1 L770.5,440.5 L771.5,439.8 L772.5,439.0 L773.5,438.3 L774.5,437.5 L775.5,436.8 L776.5,436.0 L777.5,435.2 L778.5,434.4 L779.3,433.8 L779.5,433.6 L780.5,432.8 L781.5,432.0 L782.5,431.2 L783.5,430.4 L784.5,429.5 L785.5,428.7 L786.5,427.9 L787.5,427.2 L788.5,426.4 L789.0,426.1 L789.5,425.8 L790.5,425.0 L791.5,424.3 L792.5,423.7 L793.5,423.3 L793.8,423.2 L794.5,423.0 L795.5,422.8 L796.5,422.7 L797.5,422.5 L798.5,422.4 L799.5,422.4 L799.7,422.4 L800.5,422.4 L801.5,422.6 L802.5,422.8 L803.5,423.2 L804.5,423.5 L805.5,424.0 L806.5,424.8 L807.5,426.0 L808.5,427.6 L809.5,429.4 L810.3,431.0 L810.5,431.4 L811.5,433.8 L812.5,436.8 L813.5,440.1 L814.2,442.6 L814.5,443.7 L815.5,447.7 L816.5,452.2 L817.5,457.2 L818.0,460.0 L818.5,463.1 L819.5,470.5 L820.4,477.4 L820.5,478.1 L821.5,485.5 L822.5,493.3 L822.9,496.7 L823.5,502.5 L824.5,513.1 L824.8,516.0 L825.5,522.1 L826.5,531.0 L827.5,543.2 L828.5,557.2 L829.4,568.7 L829.5,569.8 L830.5,581.3 L831.5,591.3 L832.0,595.0 L832.5,598.2 L833.5,604.0 L834.5,606.5 L835.5,601.3 L836.5,590.0 L837.5,567.1 L838.2,550.0 L838.5,544.2 L839.5,529.2 L839.6,529.0 L840.5,555.7 L840.6,560.0 L841.5,620.0 L842.5,686.1 L842.6,690.0 L843.5,714.3 L843.7,715.5 L844.5,708.4 L844.8,705.0 L845.5,697.6 L846.5,689.0 L847.5,684.8 L848.5,681.7 L849.5,680.0 L850.5,679.2 L851.5,678.6 L852.5,678.1 L853.5,677.7 L854.5,677.3 L855.3,676.9 L855.5,676.8 L856.5,676.2 L857.5,675.5 L858.2,675.0 L858.5,674.8 L859.5,674.0 L860.5,673.2 L861.5,672.4 L862.5,671.5 L863.5,670.6 L864.5,669.8 L865.5,668.9 L866.4,668.2 L866.5,668.1 L867.5,667.4 L868.5,666.7 L869.5,666.0 L870.3,665.3 L870.5,665.1 L871.5,663.9 L872.5,662.6 L873.5,661.3 L874.1,660.5 L874.5,660.0 L875.5,658.9 L876.5,657.8 L877.5,656.7 L878.5,655.6 L879.5,654.5 L880.5,653.5 L881.5,652.4 L882.4,651.4 L882.5,651.3 L883.5,650.2 L884.5,649.1 L885.5,647.9 L886.5,646.8 L887.5,645.7 L888.5,644.6 L889.5,643.4 L890.5,642.3 L891.5,641.2 L892.5,640.1 L893.5,639.1 L894.5,638.0 L895.5,637.0 L896.5,635.9 L897.5,634.9 L898.5,633.9 L899.5,632.9 L900.5,631.9 L901.5,630.9 L902.5,629.9 L903.5,628.9 L904.5,627.9 L905.5,627.0 L906.5,626.0 L906.6,625.9 L907.5,625.0 L908.5,624.1 L909.5,623.1 L910.5,622.1 L911.5,621.2 L912.5,620.2 L913.5,619.3 L914.5,618.3 L915.5,617.4 L916.5,616.4 L917.5,615.5 L918.5,614.6 L918.7,614.4 L919.5,613.7 L920.5,612.7 L921.5,611.8 L922.5,610.9 L923.5,609.9 L924.5,609.0 L925.5,608.1 L926.5,607.2 L927.5,606.3 L928.5,605.4 L929.5,604.6 L930.5,603.7 L930.8,603.5 L931.5,602.9 L932.5,602.1 L933.5,601.3 L934.5,600.6 L935.5,599.8 L936.5,599.0 L937.5,598.3 L938.5,597.6 L939.5,596.8 L940.5,596.1 L941.5,595.4 L942.5,594.8 L942.9,594.5 L943.5,594.1 L944.5,593.5 L945.5,592.8 L946.5,592.2 L947.5,591.6 L948.5,591.0 L949.5,590.4 L950.5,589.8 L951.5,589.2 L952.5,588.6 L953.5,588.1 L954.5,587.5 L955.0,587.2 L955.5,586.9 L956.5,586.3 L957.5,585.8 L958.5,585.2 L959.5,584.6 L960.5,584.1 L961.5,583.5 L962.5,583.0 L963.5,582.4 L964.5,581.9 L965.5,581.3 L966.5,580.8 L967.1,580.5 L967.5,580.3 L968.5,579.8 L969.5,579.3 L970.5,578.8 L971.5,578.2 L972.5,577.7 L973.5,577.3 L974.5,576.8 L975.5,576.3 L976.5,575.8 L977.5,575.3 L978.5,574.8 L979.2,574.5 L979.5,574.4 L980.5,573.9 L981.5,573.4 L982.5,572.9 L983.5,572.5 L984.5,572.0 L985.5,571.6 L986.5,571.1 L987.5,570.7 L988.5,570.2 L989.5,569.8 L990.5,569.3 L991.3,569.0 L991.5,568.9 L992.5,568.5 L993.5,568.1 L994.5,567.7 L995.5,567.3 L996.5,566.9 L997.5,566.5 L998.5,566.1 L999.5,565.7 L1000.5,565.3 L1001.5,564.9 L1002.5,564.6 L1003.4,564.2 L1003.5,564.2 L1004.5,563.8 L1005.5,563.4 L1006.5,563.0 L1007.5,562.6 L1008.5,562.2 L1009.5,561.8 L1010.5,561.4 L1011.5,561.0 L1012.5,560.6 L1013.5,560.2 L1014.5,559.9 L1015.5,559.5 L1016.5,559.2 L1017.5,558.8 L1018.5,558.5 L1019.5,558.1 L1020.5,557.8 L1021.5,557.5 L1022.5,557.2 L1023.5,556.9 L1024.5,556.5 L1025.5,556.2 L1026.5,555.9 L1027.5,555.6 L1027.6,555.6 L1028.5,555.3 L1029.5,555.0 L1030.5,554.7 L1031.5,554.5 L1032.5,554.2 L1033.5,553.9 L1034.5,553.6 L1035.5,553.3 L1036.5,553.0 L1037.5,552.8 L1038.5,552.5 L1039.5,552.2 L1040.0,552.1 L1040.5,552.0 L1041.5,551.7 L1042.5,551.4 L1043.5,551.2 L1044.5,550.9 L1045.5,550.6 L1046.5,550.4 L1047.5,550.1 L1048.5,549.9 L1049.5,549.6 L1050.5,549.3 L1051.5,549.1 L1052.5,548.8 L1053.5,548.6 L1054.5,548.3 L1055.5,548.1 L1056.5,547.8 L1057.5,547.6 L1058.5,547.3 L1059.5,547.1 L1060.5,546.8 L1061.5,546.6 L1062.5,546.3 L1063.5,546.1 L1064.5,545.9 L1065.5,545.6 L1066.5,545.4 L1067.5,545.1 L1068.5,544.9 L1069.5,544.7 L1070.5,544.5 L1071.5,544.2 L1072.5,544.0 L1073.5,543.8 L1074.5,543.6 L1075.5,543.3 L1076.5,543.1 L1077.1,543.0 L1077.5,542.9 L1078.5,542.7 L1079.5,542.5 L1080.5,542.3 L1081.5,542.1 L1082.5,541.9 L1083.5,541.7 L1084.5,541.5 L1085.5,541.3 L1086.5,541.1 L1087.5,540.9 L1088.5,540.7 L1089.5,540.5 L1090.5,540.3 L1091.5,540.1 L1092.5,539.9 L1093.5,539.7 L1094.5,539.5 L1095.5,539.3 L1096.5,539.2 L1097.5,539.0 L1098.5,538.8 L1099.5,538.6 L1100.5,538.4 L1101.5,538.3 L1102.5,538.1 L1103.5,537.9 L1104.5,537.7 L1105.5,537.5 L1106.5,537.4 L1107.5,537.2 L1108.5,537.0 L1109.5,536.8 L1110.5,536.7 L1111.5,536.5 L1112.5,536.3 L1113.5,536.2 L1114.5,536.0 L1115.5,535.8 L1115.7,535.8 L1116.5,535.7 L1117.5,535.5 L1118.5,535.3 L1119.5,535.2 L1120.5,535.0 L1121.5,534.8 L1122.5,534.7 L1123.5,534.5 L1124.5,534.3 L1125.5,534.2 L1126.5,534.0 L1127.5,533.9 L1128.5,533.7 L1129.5,533.5 L1130.5,533.4 L1131.5,533.2 L1132.5,533.1 L1133.5,532.9 L1134.5,532.7 L1135.5,532.6 L1136.5,532.4 L1137.5,532.3 L1138.5,532.1 L1139.5,532.0 L1140.5,531.8 L1141.5,531.7 L1142.5,531.6 L1143.5,531.4 L1144.5,531.3 L1145.5,531.1 L1146.5,531.0 L1147.5,530.9 L1148.5,530.7 L1149.5,530.6 L1150.5,530.5 L1151.5,530.3 L1152.5,530.2 L1153.5,530.1 L1154.2,530.0 L1154.5,530.0 L1155.5,529.8 L1156.5,529.7 L1157.5,529.6 L1158.5,529.5 L1159.5,529.4 L1160.5,529.3 L1161.5,529.1 L1162.5,529.0 L1163.5,528.9 L1164.5,528.8 L1165.5,528.7 L1166.5,528.6 L1167.5,528.5 L1168.5,528.4 L1169.5,528.3 L1170.5,528.1 L1171.5,528.0 L1172.5,527.9 L1173.5,527.8 L1174.5,527.7 L1175.5,527.6 L1176.5,527.5 L1177.5,527.4 L1178.5,527.3 L1179.5,527.2 L1180.5,527.2 L1181.5,527.1 L1182.5,527.0 L1183.5,526.9 L1184.5,526.8 L1185.5,526.7 L1186.5,526.6 L1187.5,526.5 L1188.5,526.4 L1189.5,526.4 L1190.5,526.3 L1191.5,526.2 L1192.5,526.1 L1192.8,526.1 L1193.5,526.0 L1194.5,526.0 L1195.5,525.9 L1196.5,525.8 L1197.5,525.8 L1198.5,525.7 L1199.5,525.6 L1200.5,525.5 L1201.5,525.5 L1202.5,525.4 L1203.5,525.3 L1204.5,525.3 L1205.5,525.2 L1206.5,525.1 L1207.5,525.1 L1208.5,525.0 L1209.5,525.0 L1210.5,524.9 L1211.5,524.8 L1212.5,524.8 L1213.5,524.7 L1214.5,524.7 L1215.5,524.6 L1216.5,524.5 L1217.5,524.5 L1218.5,524.4 L1219.5,524.4 L1220.5,524.3 L1221.5,524.3 L1222.5,524.2 L1223.5,524.1 L1224.5,524.1 L1225.5,524.0 L1226.5,524.0 L1227.5,523.9 L1228.5,523.9 L1229.5,523.8 L1230.5,523.7 L1231.3,523.7 L1231.5,523.7 L1232.5,523.6 L1233.5,523.6 L1234.5,523.5 L1235.5,523.5 L1236.5,523.4 L1237.5,523.4 L1238.5,523.3 L1239.5,523.2 L1240.5,523.2 L1241.5,523.1 L1242.5,523.1 L1243.5,523.0 L1244.5,523.0 L1245.5,522.9 L1246.5,522.9 L1247.5,522.8 L1248.5,522.7 L1249.5,522.7 L1250.5,522.6 L1251.5,522.6 L1252.5,522.5 L1253.5,522.5 L1254.5,522.4 L1255.5,522.4 L1256.5,522.3 L1257.5,522.3 L1258.5,522.2 L1259.5,522.2 L1260.5,522.1 L1261.5,522.1 L1262.5,522.0 L1263.5,522.0 L1264.5,521.9 L1265.5,521.9 L1266.5,521.8 L1267.5,521.8 L1268.5,521.8 L1269.5,521.7 L1269.9,521.7 L1270.5,521.7 L1271.5,521.6 L1272.5,521.6 L1273.5,521.6 L1274.5,521.5 L1275.5,521.5 L1276.5,521.4 L1277.5,521.4 L1278.5,521.4 L1279.5,521.3 L1280.5,521.3 L1281.5,521.2 L1282.5,521.2 L1283.5,521.2 L1284.5,521.1 L1285.5,521.1 L1286.5,521.1 L1287.5,521.0 L1288.5,521.0 L1289.5,521.0 L1290.5,520.9 L1291.5,520.9 L1292.5,520.9 L1293.5,520.8 L1294.5,520.8 L1295.5,520.8 L1296.5,520.7 L1297.5,520.7 L1298.5,520.7 L1299.5,520.6 L1300.0,520.6 L1300.5,520.6 L1301.5,520.5 L1302.5,520.5 L1303.5,520.5 L1304.5,520.4 L1305.5,520.4 L1306.5,520.4 L1307.5,520.3 L1308.5,520.3 L1309.5,520.3 L1310.5,520.2 L1311.5,520.2 L1312.5,520.2 L1313.5,520.1 L1314.5,520.1 L1315.5,520.1 L1316.5,520.0 L1317.5,520.0 L1318.5,520.0 L1319.5,519.9 L1320.5,519.9 L1321.5,519.9 L1322.5,519.8 L1323.5,519.8 L1324.5,519.8 L1325.5,519.7 L1326.5,519.7 L1327.5,519.7 L1328.5,519.6 L1329.5,519.6 L1330.5,519.6 L1331.5,519.5 L1332.5,519.5 L1333.5,519.5 L1334.5,519.4 L1335.5,519.4 L1336.5,519.4 L1337.5,519.3 L1338.5,519.3 L1339.5,519.3 L1340.5,519.2 L1341.5,519.2 L1342.5,519.2 L1343.5,519.1 L1344.5,519.1 L1345.5,519.1 L1346.5,519.1 L1347.5,519.0 L1348.5,519.0 L1349.5,519.0 L1350.5,518.9 L1351.5,518.9 L1352.5,518.9 L1353.5,518.8 L1354.5,518.8 L1355.5,518.8 L1356.5,518.7 L1357.5,518.7 L1358.5,518.7 L1359.5,518.7 L1360.5,518.6 L1361.5,518.6 L1362.5,518.6 L1363.5,518.5 L1364.5,518.5 L1365.5,518.5 L1366.5,518.4 L1367.5,518.4 L1368.5,518.4 L1369.5,518.4 L1370.5,518.3 L1371.5,518.3 L1372.5,518.3 L1373.5,518.2 L1374.5,518.2 L1375.5,518.2 L1376.5,518.2 L1377.5,518.1 L1378.5,518.1 L1379.5,518.1 L1380.5,518.1 L1381.5,518.0 L1382.5,518.0 L1383.5,518.0 L1384.5,518.0 L1385.5,517.9 L1386.5,517.9 L1386.8,517.9 L1387.5,517.9 L1388.5,517.9 L1389.5,517.8 L1390.5,517.8 L1391.5,517.8 L1392.5,517.8 L1393.5,517.7 L1394.5,517.7 L1395.5,517.7 L1396.5,517.7 L1397.5,517.6 L1398.5,517.6 L1399.5,517.6 L1400.5,517.6 L1401.5,517.5 L1402.5,517.5 L1403.5,517.5 L1404.5,517.5 L1405.5,517.4 L1406.5,517.4 L1407.5,517.4 L1408.5,517.4 L1409.5,517.3 L1410.5,517.3 L1411.5,517.3 L1412.5,517.3 L1413.5,517.2 L1414.5,517.2 L1415.5,517.2 L1416.5,517.2 L1417.5,517.1 L1418.5,517.1 L1419.5,517.1 L1420.5,517.1 L1421.5,517.0 L1422.5,517.0 L1423.5,517.0 L1424.5,517.0 L1425.5,516.9 L1426.5,516.9 L1427.5,516.9 L1428.5,516.9 L1429.5,516.9 L1430.5,516.8 L1431.5,516.8 L1432.5,516.8 L1433.5,516.8 L1434.5,516.7 L1435.5,516.7 L1436.5,516.7 L1437.5,516.7 L1438.5,516.7 L1439.5,516.6 L1440.5,516.6 L1441.5,516.6 L1442.5,516.6 L1443.5,516.6 L1444.5,516.5 L1445.5,516.5 L1446.5,516.5 L1447.5,516.5 L1448.5,516.5 L1449.5,516.4 L1450.5,516.4 L1451.5,516.4 L1452.5,516.4 L1453.5,516.4 L1454.5,516.4 L1455.5,516.3 L1456.5,516.3 L1457.5,516.3 L1458.5,516.3 L1459.5,516.3 L1460.5,516.3 L1461.5,516.3 L1462.5,516.2 L1463.5,516.2 L1464.5,516.2 L1465.5,516.2 L1466.5,516.2 L1467.5,516.2 L1468.5,516.2 L1469.5,516.1 L1470.5,516.1 L1471.5,516.1 L1472.5,516.1 L1473.5,516.1 L1473.6,516.1 L1474.5,516.1 L1475.5,516.1 L1476.5,516.1 L1477.5,516.1 L1478.5,516.0 L1479.5,516.0 L1480.5,516.0 L1481.5,516.0 L1482.5,516.0 L1483.5,516.0 L1484.5,516.0 L1485.5,516.0 L1486.5,516.0 L1487.5,516.0 L1488.5,515.9 L1489.5,515.9 L1490.5,515.9 L1491.5,515.9 L1492.5,515.9 L1493.5,515.9 L1494.5,515.9 L1495.5,515.9 L1496.5,515.9 L1497.5,515.9 L1498.5,515.8 L1499.5,515.8 L1500.5,515.8 L1501.5,515.8 L1502.5,515.8 L1503.5,515.8 L1504.5,515.8 L1505.5,515.8 L1506.5,515.8 L1507.5,515.8 L1508.5,515.8 L1509.5,515.7 L1510.5,515.7 L1511.5,515.7 L1512.5,515.7 L1513.5,515.7 L1514.5,515.7 L1515.5,515.7 L1516.5,515.7 L1517.5,515.7 L1518.5,515.7 L1519.5,515.7 L1520.5,515.7 L1521.5,515.7 L1522.5,515.6 L1523.5,515.6 L1524.5,515.6 L1525.5,515.6 L1526.5,515.6 L1527.5,515.6 L1528.5,515.6 L1529.5,515.6 L1530.5,515.6 L1531.5,515.6 L1532.5,515.6 L1533.5,515.6 L1534.5,515.6 L1535.5,515.6 L1536.5,515.6 L1537.5,515.6 L1538.5,515.6 L1539.5,515.5 L1540.5,515.5 L1541.5,515.5 L1542.5,515.5 L1543.5,515.5 L1544.5,515.5 L1545.5,515.5 L1546.5,515.5 L1547.5,515.5 L1548.5,515.5 L1549.5,515.5 L1550.5,515.5 L1551.5,515.5 L1552.5,515.5 L1553.5,515.5 L1554.5,515.5 L1555.5,515.5 L1556.5,515.5 L1557.5,515.5 L1558.5,515.5 L1559.5,515.5 L1560.4,515.5 L1560.5,515.5 L1561.5,515.5 L1562.5,515.5 L1563.5,515.5 L1564.5,515.5 L1565.5,515.5 L1566.5,515.5 L1567.5,515.5 L1568.5,515.5 L1569.5,515.5 L1570.5,515.5 L1571.5,515.5 L1572.5,515.5 L1573.5,515.5 L1574.5,515.5 L1575.5,515.5 L1576.5,515.5 L1577.5,515.5 L1578.5,515.5 L1579.5,515.5 L1580.5,515.5 L1581.5,515.5 L1582.5,515.5 L1583.5,515.5 L1584.5,515.5 L1585.5,515.5 L1586.5,515.5 L1587.5,515.5 L1588.5,515.5 L1589.5,515.5 L1590.5,515.5 L1591.5,515.5 L1592.5,515.5 L1593.5,515.5 L1594.5,515.5 L1595.5,515.5 L1596.5,515.5 L1597.5,515.5 L1598.5,515.5 L1599.5,515.5 L1600.5,515.5 L1601.5,515.5 L1602.5,515.5 L1603.5,515.5 L1604.5,515.5 L1605.5,515.5 L1606.5,515.5 L1607.5,515.5 L1608.5,515.5 L1609.5,515.5 L1610.5,515.5 L1611.5,515.5 L1612.5,515.5 L1613.5,515.5 L1614.5,515.5 L1615.5,515.5 L1616.5,515.5 L1617.5,515.5 L1618.5,515.5 L1619.5,515.5 L1620.5,515.6 L1621.5,515.6 L1622.5,515.6 L1623.5,515.6 L1624.5,515.6 L1625.5,515.6 L1626.5,515.6 L1627.5,515.6 L1628.5,515.6 L1629.5,515.6 L1630.5,515.6 L1631.5,515.6 L1632.5,515.6 L1633.5,515.6 L1634.5,515.6 L1635.5,515.6 L1636.0,515.6"/>
<path stroke="#ff0000" stroke-width="8.6" d="M225.5,518.5 L227.5,518.5 L229.5,518.4 L231.5,518.4 L233.5,518.4 L235.5,518.3 L237.5,518.3 L239.5,518.2 L241.5,518.2 L243.5,518.2 L245.5,518.1 L247.5,518.1 L249.5,518.0 L251.5,518.0 L253.5,518.0 L255.5,517.9 L257.5,517.9 L259.5,517.8 L261.5,517.8 L263.5,517.7 L265.5,517.7 L267.5,517.7 L269.5,517.6 L270.0,517.6 L271.5,517.6 L273.5,517.5 L275.5,517.5 L277.5,517.4 L279.5,517.4 L281.5,517.4 L283.5,517.3 L285.5,517.3 L287.5,517.2 L289.5,517.2 L291.5,517.2 L293.5,517.1 L295.5,517.1 L297.5,517.0 L299.5,517.0 L301.5,516.9 L303.5,516.9 L305.5,516.8 L307.5,516.8 L309.5,516.7 L311.5,516.6 L313.5,516.6 L315.5,516.5 L317.5,516.4 L319.5,516.3 L320.0,516.3 L321.5,516.2 L323.5,516.1 L325.5,515.9 L327.5,515.7 L329.5,515.5 L331.5,515.2 L333.5,514.9 L335.5,514.7 L337.5,514.4 L339.5,514.1 L341.5,513.8 L343.5,513.6 L345.0,513.4 L345.5,513.3 L347.5,513.1 L349.5,512.9 L351.5,512.7 L353.5,512.5 L355.5,512.2 L357.5,512.0 L359.5,511.8 L361.5,511.6 L363.5,511.3 L365.5,511.1 L367.5,510.8 L369.5,510.5 L370.5,510.4 L371.5,510.3 L373.5,509.9 L375.5,509.6 L377.5,509.3 L379.5,508.9 L381.5,508.6 L383.5,508.2 L385.5,507.8 L387.5,507.3 L389.5,506.9 L391.5,506.4 L393.5,505.9 L395.5,505.4 L395.6,505.4 L397.5,504.8 L399.5,504.1 L401.5,503.3 L403.5,502.5 L405.5,501.7 L407.5,500.9 L409.5,500.2 L410.7,499.9 L411.5,499.7 L413.5,499.2 L415.5,498.8 L417.5,498.5 L419.5,498.1 L421.5,497.8 L423.5,497.5 L425.5,497.2 L427.5,496.9 L429.5,496.5 L431.5,496.1 L433.5,495.6 L435.5,495.0 L435.8,494.9 L437.5,494.2 L439.5,492.9 L441.5,491.5 L443.5,490.1 L445.5,489.1 L445.8,489.0 L447.5,488.5 L449.5,487.9 L451.5,487.5 L453.5,487.1 L455.5,486.7 L457.5,486.3 L459.5,485.7 L460.9,485.3 L461.5,485.1 L463.5,484.1 L465.5,483.0 L467.5,481.8 L469.5,480.8 L470.9,480.3 L471.5,480.1 L473.5,479.7 L475.5,479.3 L477.5,479.0 L479.5,478.7 L481.5,478.3 L483.5,478.0 L485.5,477.4 L486.0,477.3 L487.5,476.7 L489.5,475.5 L491.5,474.1 L493.5,472.7 L495.5,471.7 L496.0,471.5 L497.5,471.1 L499.5,470.6 L501.5,470.2 L503.5,469.9 L505.5,469.5 L507.5,469.2 L509.5,468.7 L511.0,468.3 L511.5,468.1 L513.5,467.2 L515.5,466.0 L517.5,464.8 L519.5,463.8 L521.1,463.2 L521.5,463.1 L523.5,462.7 L525.5,462.4 L527.5,462.1 L529.5,461.9 L531.5,461.6 L533.5,461.4 L535.5,461.2 L537.5,460.9 L539.5,460.6 L541.2,460.2 L541.5,460.1 L543.5,459.4 L545.5,458.4 L547.5,457.2 L549.5,456.0 L551.5,454.9 L553.5,454.1 L553.7,454.0 L555.5,453.5 L557.5,452.9 L559.5,452.4 L561.5,451.9 L563.5,451.5 L565.5,451.1 L567.5,450.8 L569.5,450.4 L571.3,450.2 L571.5,450.2 L573.5,449.9 L575.5,449.7 L577.5,449.5 L579.5,449.3 L581.5,449.2 L583.5,449.0 L583.8,449.0 L585.5,448.9 L587.5,448.7 L589.5,448.6 L591.5,448.4 L593.5,448.3 L595.5,448.1 L597.5,448.0 L599.5,447.9 L601.5,447.8 L603.5,447.7 L605.5,447.7 L606.4,447.7 L607.5,447.7 L609.5,447.9 L611.5,448.1 L613.5,448.5 L615.5,448.9 L617.5,449.3 L619.5,449.7 L621.5,450.0 L623.5,450.3 L625.5,450.6 L627.5,451.0 L629.5,451.3 L630.0,451.4 L631.5,451.7 L633.5,452.1 L635.5,452.5 L637.5,453.0 L639.5,453.5 L640.0,453.6 L641.5,454.0 L643.5,454.5 L645.5,455.0 L647.5,455.6 L649.5,456.3 L651.5,457.0 L652.1,457.2 L653.5,457.8 L655.5,458.7 L657.5,459.7 L659.5,460.9 L661.5,462.1 L663.5,463.4 L664.2,463.9 L665.5,464.8 L667.5,466.5 L669.5,468.3 L671.5,470.1 L673.5,472.1 L675.5,474.0 L676.3,474.8 L677.5,475.9 L679.5,477.9 L681.5,479.9 L683.5,481.9 L685.5,483.9 L687.5,486.0 L688.4,486.9 L689.5,488.1 L691.5,490.2 L693.5,492.4 L695.5,494.6 L697.5,496.8 L699.5,499.1 L700.5,500.2 L701.5,501.3 L703.5,503.7 L705.5,506.0 L707.5,508.4 L709.5,510.8 L711.5,513.3 L712.6,514.7 L713.5,515.9 L715.5,518.6 L717.5,521.4 L719.5,524.3 L721.5,527.2 L723.5,530.0 L724.7,531.7 L725.5,532.8 L727.5,535.5 L729.5,538.3 L731.5,541.0 L733.5,543.7 L735.5,546.6 L736.9,548.6 L737.5,549.5 L739.5,552.5 L741.5,555.6 L743.5,558.8 L745.5,562.1 L747.5,565.4 L749.0,568.0 L749.5,568.9 L751.5,572.5 L753.5,576.3 L755.5,580.1 L757.5,584.0 L759.5,587.9 L761.1,591.0 L761.5,591.8 L763.5,595.5 L765.5,599.3 L767.5,603.1 L769.5,607.0 L769.7,607.4 L771.5,610.9 L773.5,614.8 L775.5,618.8 L777.5,622.9 L779.3,626.7 L779.5,627.1 L781.5,631.6 L783.5,636.3 L785.5,641.1 L787.5,646.1 L789.0,649.9 L789.5,651.2 L791.5,656.5 L792.9,660.5 L793.5,662.3 L795.5,668.2 L797.5,674.8 L798.7,679.3 L799.5,682.7 L801.5,692.6 L802.6,698.7 L803.5,704.2 L805.5,718.0 L807.5,733.9 L807.9,737.4 L809.5,753.9 L809.8,756.7 L811.5,770.1 L812.2,776.0 L813.5,789.6 L813.6,790.5 L815.5,804.8 L816.1,809.3 L817.5,820.6 L818.5,828.7 L819.5,836.9 L820.9,848.0 L821.5,852.3 L823.5,865.6 L823.8,867.4 L825.5,876.8 L826.7,883.0 L827.5,887.2 L829.5,897.3 L829.7,898.2 L831.5,906.1 L833.5,913.0 L833.9,913.9 L835.5,916.1 L837.5,918.1 L838.7,919.9 L839.5,921.8 L841.2,928.4 L841.5,930.6 L843.0,946.6 L843.5,949.8 L845.5,959.7 L846.0,961.1 L847.5,964.0 L849.5,966.7 L850.8,968.4 L851.5,969.4 L853.5,972.4 L855.5,975.2 L857.5,978.2 L859.5,981.3 L860.5,982.9 L861.5,984.6 L863.5,988.4 L865.5,992.3 L867.5,996.2 L869.5,999.8 L870.2,1001.0 L871.5,1003.0 L873.5,1006.0 L875.5,1008.8 L877.5,1011.5 L878.7,1013.1 L879.5,1014.2 L881.5,1016.8 L883.5,1019.4 L885.5,1021.8 L887.5,1024.2 L888.4,1025.2 L889.5,1026.4 L891.5,1028.5 L893.5,1030.6 L895.5,1032.6 L897.5,1034.5 L899.5,1036.4 L900.5,1037.3 L901.5,1038.2 L903.5,1040.0 L905.5,1041.7 L907.5,1043.3 L907.7,1043.5 L909.5,1044.8 L911.5,1046.3 L913.5,1047.6 L915.5,1049.0 L916.3,1049.5 L917.5,1050.4 L919.5,1051.7 L920.0,1052.0 L921.5,1052.7 L923.5,1053.6 L925.5,1054.3 L927.5,1055.0 L928.4,1055.3 L929.5,1055.7 L931.5,1056.4 L933.5,1057.1 L935.5,1057.7 L937.5,1058.0 L938.3,1058.0 L939.5,1057.9 L941.5,1057.6 L943.5,1057.2 L945.5,1056.7 L947.5,1056.4 L948.9,1056.3 L949.5,1056.3 L951.5,1056.3 L953.5,1056.4 L955.5,1056.5 L957.5,1056.5 L959.5,1056.6 L961.0,1056.6 L961.5,1056.6 L963.5,1055.9 L965.5,1054.8 L967.5,1053.8 L968.2,1053.5 L969.5,1053.1 L971.5,1052.6 L973.5,1052.1 L975.5,1051.7 L977.5,1051.3 L979.5,1050.9 L981.5,1050.5 L983.5,1050.0 L985.5,1049.5 L987.5,1048.9 L989.5,1048.2 L991.5,1047.3 L993.5,1046.4 L995.5,1045.3 L997.5,1044.3 L999.5,1043.2 L1000.0,1042.9 L1001.5,1042.1 L1003.5,1040.9 L1005.5,1039.6 L1007.5,1038.3 L1009.5,1037.0 L1011.5,1035.6 L1013.5,1034.2 L1015.5,1032.8 L1017.5,1031.4 L1019.5,1030.0 L1021.5,1028.6 L1023.5,1027.3 L1024.2,1026.8 L1025.5,1025.9 L1027.5,1024.6 L1029.5,1023.3 L1031.5,1022.0 L1033.5,1020.7 L1035.5,1019.4 L1037.5,1018.1 L1039.5,1016.8 L1041.5,1015.4 L1043.5,1014.1 L1045.5,1012.7 L1047.5,1011.3 L1048.4,1010.6 L1049.5,1009.8 L1051.5,1008.3 L1053.5,1006.7 L1055.5,1005.1 L1057.5,1003.5 L1059.5,1001.9 L1061.5,1000.3 L1063.5,998.6 L1065.5,997.0 L1067.5,995.4 L1069.0,994.2 L1069.5,993.8 L1071.5,992.3 L1073.5,990.7 L1075.5,989.2 L1077.5,987.6 L1079.5,986.0 L1080.0,985.6 L1081.5,984.3 L1083.5,982.6 L1085.5,980.8 L1087.5,979.0 L1089.5,977.1 L1091.5,975.3 L1093.5,973.4 L1095.5,971.5 L1096.9,970.2 L1097.5,969.6 L1099.5,967.8 L1101.5,965.9 L1103.5,964.0 L1105.5,962.1 L1107.5,960.1 L1109.5,958.2 L1111.5,956.3 L1113.5,954.4 L1115.5,952.4 L1117.5,950.5 L1119.5,948.5 L1121.1,947.0 L1121.5,946.6 L1123.5,944.7 L1125.5,942.7 L1127.5,940.8 L1129.5,938.8 L1131.5,936.9 L1133.5,934.9 L1135.5,933.0 L1137.5,931.0 L1139.5,929.0 L1141.5,927.1 L1143.5,925.2 L1145.5,923.2 L1147.5,921.3 L1149.5,919.4 L1150.0,918.9 L1151.5,917.5 L1153.5,915.6 L1155.5,913.7 L1157.5,911.8 L1159.5,910.0 L1161.5,908.1 L1163.5,906.2 L1165.5,904.4 L1167.5,902.5 L1169.5,900.6 L1170.7,899.5 L1171.5,898.7 L1173.5,896.9 L1175.5,895.0 L1177.5,893.1 L1179.5,891.2 L1181.5,889.3 L1183.5,887.4 L1185.5,885.5 L1187.5,883.6 L1189.5,881.7 L1191.5,879.8 L1193.5,877.8 L1195.5,875.9 L1197.5,874.0 L1198.0,873.5 L1199.5,872.0 L1201.5,870.1 L1203.5,868.2 L1205.5,866.2 L1207.5,864.2 L1209.5,862.3 L1211.5,860.3 L1213.5,858.3 L1215.5,856.3 L1217.5,854.4 L1219.5,852.4 L1221.5,850.4 L1223.5,848.4 L1225.5,846.5 L1227.5,844.5 L1229.5,842.6 L1231.5,840.6 L1231.6,840.5 L1233.5,838.6 L1235.5,836.7 L1237.5,834.8 L1239.5,832.8 L1241.5,830.9 L1243.5,828.9 L1245.5,827.0 L1247.5,825.1 L1249.5,823.1 L1251.5,821.2 L1253.5,819.3 L1255.5,817.3 L1257.5,815.4 L1259.5,813.5 L1260.0,813.0 L1261.5,811.6 L1263.5,809.6 L1265.5,807.7 L1267.5,805.8 L1269.5,803.9 L1271.5,802.0 L1273.5,800.1 L1275.5,798.2 L1277.5,796.3 L1279.5,794.4 L1281.5,792.5 L1283.5,790.6 L1285.5,788.7 L1287.5,786.8 L1289.5,784.9 L1291.5,783.0 L1293.5,781.1 L1294.7,780.0 L1295.5,779.2 L1297.5,777.3 L1299.5,775.4 L1301.5,773.5 L1303.5,771.6 L1305.5,769.7 L1307.5,767.8 L1309.5,765.8 L1311.5,763.9 L1313.5,762.0 L1315.5,760.1 L1317.5,758.2 L1319.5,756.4 L1321.5,754.5 L1323.5,752.6 L1324.2,752.0 L1325.5,750.8 L1327.5,749.0 L1329.5,747.2 L1331.5,745.3 L1333.5,743.5 L1335.5,741.7 L1337.5,740.0 L1339.5,738.2 L1341.5,736.4 L1343.5,734.6 L1345.5,732.9 L1347.5,731.1 L1348.4,730.3 L1349.5,729.3 L1351.5,727.6 L1353.5,725.8 L1355.5,724.1 L1357.5,722.3 L1359.5,720.6 L1361.5,718.9 L1363.5,717.1 L1365.5,715.4 L1367.5,713.7 L1369.5,712.0 L1371.5,710.2 L1372.6,709.3 L1373.5,708.5 L1375.5,706.8 L1377.5,705.1 L1379.5,703.4 L1381.5,701.7 L1383.5,700.0 L1385.5,698.3 L1387.5,696.6 L1389.5,694.9 L1391.5,693.2 L1393.5,691.6 L1395.5,689.9 L1396.9,688.8 L1397.5,688.3 L1399.5,686.7 L1401.5,685.1 L1403.5,683.5 L1405.5,681.9 L1407.5,680.4 L1409.5,678.8 L1411.5,677.3 L1413.5,675.7 L1415.5,674.2 L1417.5,672.7 L1419.5,671.2 L1421.1,670.0 L1421.5,669.7 L1423.5,668.2 L1425.5,666.7 L1427.5,665.3 L1429.5,663.9 L1431.5,662.4 L1433.5,661.0 L1435.5,659.6 L1437.5,658.1 L1439.5,656.7 L1441.5,655.3 L1443.5,653.9 L1445.5,652.5 L1447.5,651.0 L1449.5,649.6 L1450.0,649.2 L1451.5,648.1 L1453.5,646.6 L1455.5,645.2 L1457.5,643.7 L1459.5,642.2 L1461.5,640.7 L1462.5,640.0 L1463.5,639.3 L1465.5,637.8 L1467.5,636.3 L1469.5,634.9 L1471.5,633.4 L1473.5,632.0 L1474.2,631.5 L1475.5,630.6 L1477.5,629.1 L1479.5,627.7 L1481.5,626.3 L1483.5,624.9 L1485.5,623.5 L1487.5,622.1 L1489.5,620.6 L1491.5,619.3 L1493.5,617.9 L1495.5,616.5 L1497.5,615.1 L1498.4,614.5 L1499.5,613.8 L1501.5,612.4 L1503.5,611.0 L1505.5,609.7 L1507.5,608.4 L1509.5,607.0 L1511.5,605.7 L1513.5,604.4 L1515.5,603.1 L1517.5,601.8 L1519.5,600.5 L1521.5,599.2 L1522.6,598.5 L1523.5,597.9 L1525.5,596.7 L1527.5,595.4 L1529.5,594.2 L1531.5,592.9 L1533.5,591.7 L1535.5,590.5 L1537.5,589.2 L1539.5,588.0 L1541.5,586.8 L1543.5,585.6 L1545.5,584.4 L1546.9,583.6 L1547.5,583.2 L1549.5,582.1 L1551.5,580.9 L1553.5,579.7 L1555.5,578.5 L1557.5,577.3 L1559.5,576.2 L1561.5,575.0 L1563.5,573.9 L1565.5,572.7 L1567.5,571.6 L1569.5,570.5 L1571.1,569.6 L1571.5,569.4 L1573.5,568.3 L1575.5,567.2 L1577.5,566.1 L1579.5,565.0 L1581.5,563.9 L1583.5,562.9 L1585.5,561.8 L1587.5,560.8 L1589.5,559.7 L1591.5,558.7 L1593.5,557.8 L1595.3,556.9 L1595.5,556.8 L1597.5,555.9 L1599.5,554.9 L1601.5,554.0 L1603.5,553.0 L1605.5,552.1 L1607.5,551.2 L1609.5,550.4 L1611.5,549.5 L1613.5,548.7 L1615.5,547.9 L1617.5,547.2 L1619.5,546.5 L1621.5,545.8 L1623.5,545.2 L1625.5,544.6 L1627.5,544.0 L1629.5,543.5 L1631.5,543.0 L1633.5,542.5 L1635.5,542.0 L1636.0,541.9"/>
<path stroke="#ff0000" stroke-width="10" d="M225.5,517.7 L226.8,518.6 L228.0,518.0 L229.2,518.4 L230.5,518.7 L231.8,518.1 L233.0,518.1 L234.2,517.5 L235.5,517.8 L236.8,518.2 L238.0,518.6 L239.2,518.9 L240.5,518.3 L241.8,517.7 L243.0,517.8 L244.2,518.5 L245.5,517.4 L246.8,517.7 L248.0,518.3 L249.2,516.9 L250.5,517.7 L251.8,518.3 L253.0,517.3 L254.2,517.8 L255.5,518.4 L256.8,517.2 L258.0,517.7 L259.2,518.0 L260.5,517.9 L261.8,517.7 L263.0,517.4 L264.2,517.9 L265.5,517.7 L266.8,517.8 L268.0,517.6 L269.2,518.2 L270.5,518.0 L271.8,517.3 L273.0,517.6 L274.2,517.2 L275.5,517.5 L276.8,517.5 L278.0,518.0 L279.2,517.7 L280.5,517.8 L281.8,518.1 L283.0,517.6 L284.2,518.3 L285.5,517.0 L286.8,517.6 L288.0,516.9 L289.2,516.7 L290.5,517.0 L291.8,516.9 L293.0,516.7 L294.2,516.1 L295.5,516.3 L296.8,517.2 L298.0,516.9 L299.2,517.2 L300.5,517.4 L301.8,516.9 L303.0,515.9 L304.2,516.2 L305.5,516.8 L306.8,516.4 L308.0,517.6 L309.2,517.6 L310.5,517.5 L311.8,516.9 L313.0,517.4 L314.2,516.2 L315.5,516.3 L316.8,516.3 L318.0,516.6 L319.2,516.2 L320.5,515.8 L321.8,516.2 L323.0,516.2 L324.2,516.1 L325.5,515.7 L326.8,515.8 L328.0,515.6 L329.2,515.9 L330.5,515.7 L331.8,515.0 L333.0,514.7 L334.2,515.0 L335.5,515.1 L336.8,514.8 L338.0,514.9 L339.2,514.9 L340.5,513.5 L341.8,514.5 L343.0,513.5 L344.2,513.7 L345.5,514.0 L346.8,513.7 L348.0,512.8 L349.2,513.5 L350.5,512.5 L351.8,512.9 L353.0,513.5 L354.2,512.8 L355.5,512.9 L356.8,512.9 L358.0,512.8 L359.2,512.5 L360.5,511.1 L361.8,511.4 L363.0,511.3 L364.2,510.5 L365.5,511.1 L366.8,511.0 L368.0,511.1 L369.2,511.0 L370.5,509.5 L371.8,509.4 L373.0,509.8 L374.2,508.9 L375.5,509.0 L376.8,509.4 L378.0,508.6 L379.2,509.2 L380.5,509.0 L381.8,507.5 L383.0,508.0 L384.2,508.1 L385.5,508.1 L386.8,506.8 L388.0,506.5 L389.2,507.4 L390.5,507.4 L391.8,506.2 L393.0,506.1 L394.2,506.0 L395.5,505.7 L396.8,504.1 L398.0,504.4 L399.2,504.2 L400.5,503.4 L401.8,502.3 L403.0,501.8 L404.2,501.8 L405.5,502.2 L406.8,500.7 L408.0,500.2 L409.2,500.2 L410.5,499.4 L411.8,499.2 L413.0,498.7 L414.2,499.1 L415.5,499.1 L416.8,498.4 L418.0,497.9 L419.2,498.1 L420.5,498.4 L421.8,498.7 L423.0,498.5 L424.2,497.0 L425.5,496.3 L426.8,497.2 L428.0,497.1 L429.2,496.2 L430.5,496.4 L431.8,496.3 L433.0,495.7 L434.2,495.8 L435.5,494.3 L436.8,494.2 L438.0,493.4 L439.2,492.3 L440.5,492.4 L441.8,490.3 L443.0,490.5 L444.2,489.1 L445.5,489.1 L446.8,488.8 L448.0,488.2 L449.2,488.4 L450.5,488.2 L451.8,487.6 L453.0,487.9 L454.2,486.8 L455.5,486.6 L456.8,486.6 L458.0,486.3 L459.2,485.8 L460.5,486.4 L461.8,485.7 L463.0,483.8 L464.2,483.3 L465.5,482.1 L466.8,481.8 L468.0,481.0 L469.2,480.8 L470.5,481.0 L471.8,480.0 L473.0,480.2 L474.2,480.0 L475.5,480.1 L476.8,478.9 L478.0,479.6 L479.2,479.7 L480.5,479.0 L481.8,478.3 L483.0,478.5 L484.2,478.2 L485.5,477.8 L486.8,476.6 L488.0,477.2 L489.2,476.4 L490.5,474.8 L491.8,474.0 L493.0,472.3 L494.2,472.8 L495.5,471.9 L496.8,471.2 L498.0,471.1 L499.2,469.9 L500.5,469.8 L501.8,469.5 L503.0,469.7 L504.2,468.7 L505.5,469.8 L506.8,469.2 L508.0,469.1 L509.2,468.6 L510.5,469.0 L511.8,468.6 L513.0,467.6 L514.2,466.2 L515.5,466.3 L516.8,464.9 L518.0,465.3 L519.2,464.5 L520.5,463.4 L521.8,463.1 L523.0,462.7 L524.2,461.7 L525.5,462.5 L526.8,462.0 L528.0,462.7 L529.2,462.7 L530.5,461.4 L531.8,462.0 L533.0,461.3 L534.2,461.7 L535.5,461.1 L536.8,460.7 L538.0,461.0 L539.2,459.5 L540.5,460.2 L541.8,459.7 L543.0,459.0 L544.2,459.6 L545.5,458.6 L546.8,458.4 L548.0,457.2 L549.2,456.1 L550.5,456.3 L551.8,454.4 L553.0,453.8 L554.2,454.4 L555.5,453.5 L556.8,453.1 L558.0,453.5 L559.2,452.4 L560.5,452.9 L561.8,452.3 L563.0,451.6 L564.2,450.9 L565.5,451.0 L566.8,451.8 L568.0,450.8 L569.2,450.2 L570.5,450.1 L571.8,450.7 L573.0,449.4 L574.2,450.2 L575.5,449.3 L576.8,450.6 L578.0,450.0 L579.2,449.1 L580.5,450.1 L581.8,449.1 L583.0,449.4 L584.2,448.9 L585.5,448.2 L586.8,448.0 L588.0,447.9 L589.2,448.0 L590.5,448.0 L591.8,448.1 L593.0,449.5 L594.2,447.9 L595.5,448.3 L596.8,447.4 L598.0,447.3 L599.2,448.1 L600.5,448.3 L601.8,447.6 L603.0,447.0 L604.2,448.5 L605.5,447.1 L606.8,447.7 L608.0,448.0 L609.2,448.7 L610.5,448.7 L611.8,448.6 L613.0,448.5 L614.2,449.2 L615.5,449.4 L616.8,449.5 L618.0,449.4 L619.2,448.7 L620.5,449.2 L621.8,449.6 L623.0,449.8 L624.2,450.6 L625.5,450.1 L626.8,451.1 L628.0,450.9 L629.2,451.7 L630.5,451.2 L631.8,451.8 L633.0,451.5 L634.2,452.0 L635.5,453.4 L636.8,452.8 L638.0,453.8 L639.2,453.5 L640.5,452.9 L641.8,454.2 L643.0,453.6 L644.2,455.2 L645.5,454.5 L646.8,456.0 L648.0,455.6 L649.2,456.3 L650.5,457.6 L651.8,457.3 L653.0,458.1 L654.2,458.8 L655.5,458.5 L656.8,460.2 L658.0,461.0 L659.2,460.6 L660.5,461.9 L661.8,462.2 L663.0,463.7 L664.2,463.5 L665.5,465.1 L666.8,466.4 L668.0,467.4 L669.2,467.6 L670.5,469.7 L671.8,470.1 L673.0,472.2 L674.2,473.1 L675.5,473.9 L676.8,475.9 L678.0,477.0 L679.2,477.9 L680.5,479.3 L681.8,479.5 L683.0,480.9 L684.2,482.1 L685.5,484.1 L686.8,485.2 L688.0,486.5 L689.2,488.0 L690.5,489.1 L691.8,490.1 L693.0,492.1 L694.2,493.2 L695.5,494.8 L696.8,496.7 L698.0,496.9 L699.2,498.8 L700.5,500.0 L701.8,501.0 L703.0,502.7 L704.2,504.9 L705.5,505.6 L706.8,507.7 L708.0,509.6 L709.2,510.6 L710.5,513.2 L711.8,514.2 L713.0,515.6 L714.2,517.5 L715.5,518.8 L716.8,520.8 L718.0,521.7 L719.2,524.3 L720.5,525.4 L721.8,526.9 L723.0,529.0 L724.2,531.6 L725.5,533.3 L726.8,534.6 L728.0,536.2 L729.2,538.0 L730.5,540.6 L731.8,541.1 L733.0,544.0 L734.2,545.7 L735.5,546.5 L736.8,548.4 L738.0,550.5 L739.2,552.6 L740.5,554.7 L741.8,556.6 L743.0,557.4 L744.2,559.2 L745.5,561.6 L746.8,563.9 L748.0,566.2 L749.2,567.6 L750.5,570.5 L751.8,573.2 L753.0,575.5 L754.2,577.8 L755.5,580.2 L756.8,582.8 L758.0,583.9 L759.2,587.7 L760.5,589.1 L761.8,591.6 L763.0,594.1 L764.2,597.2 L765.5,599.2 L766.8,601.4 L768.0,604.0 L769.2,607.3 L770.5,609.6 L771.8,611.1 L773.0,613.7 L774.2,616.3 L775.5,618.5 L776.8,621.5 L778.0,623.5 L779.2,626.7 L780.5,630.1 L781.8,632.9 L783.0,634.8 L784.2,638.0 L785.5,641.2 L786.8,644.4 L788.0,646.9 L789.2,649.8 L790.5,653.2 L791.8,656.4 L793.0,661.0 L794.2,664.5 L795.5,667.9 L796.8,672.4 L798.0,676.7 L799.2,681.7 L800.5,687.3 L801.8,694.0 L803.0,701.8 L804.2,709.5 L805.5,718.3 L806.8,726.8 L808.0,738.0 L809.2,750.8 L810.5,761.9 L811.8,772.1 L813.0,784.2 L814.2,795.8 L815.5,805.6 L816.8,815.0 L818.0,825.1 L819.2,834.4 L820.5,844.6 L821.8,853.5 L823.0,862.0 L824.2,869.5 L825.5,877.4 L826.8,883.8 L828.0,889.3 L829.2,895.7 L830.5,902.4 L831.8,907.3 L833.0,911.6 L834.2,914.4 L835.5,915.6 L836.8,917.1 L838.0,918.6 L839.2,920.7 L840.5,925.3 L841.8,932.2 L843.0,946.5 L844.2,954.8 L845.5,959.1 L846.8,962.8 L848.0,965.1 L849.2,966.3 L850.5,968.8 L851.8,969.9 L853.0,971.7 L854.2,974.1 L855.5,974.6 L856.8,977.6 L858.0,978.4 L859.2,980.5 L860.5,982.6 L861.8,984.6 L863.0,986.3 L864.2,989.2 L865.5,991.8 L866.8,995.2 L868.0,997.7 L869.2,999.6 L870.5,1002.4 L871.8,1004.4 L873.0,1005.6 L874.2,1007.0 L875.5,1009.4 L876.8,1010.7 L878.0,1011.9 L879.2,1014.9 L880.5,1016.5 L881.8,1017.5 L883.0,1019.1 L884.2,1020.5 L885.5,1022.2 L886.8,1022.8 L888.0,1024.4 L889.2,1025.3 L890.5,1026.7 L891.8,1028.4 L893.0,1029.3 L894.2,1030.3 L895.5,1032.0 L896.8,1033.8 L898.0,1034.5 L899.2,1036.7 L900.5,1037.8 L901.8,1039.0 L903.0,1040.3 L904.2,1040.0 L905.5,1041.1 L906.8,1043.0 L908.0,1044.0 L909.2,1043.7 L910.5,1045.7 L911.8,1045.4 L913.0,1046.5 L914.2,1047.3 L915.5,1048.4 L916.8,1049.4 L918.0,1051.2 L919.2,1051.5 L920.5,1051.9 L921.8,1052.7 L923.0,1052.8 L924.2,1053.3 L925.5,1054.3 L926.8,1054.9 L928.0,1055.0 L929.2,1055.7 L930.5,1055.8 L931.8,1057.0 L933.0,1056.8 L934.2,1056.7 L935.5,1057.3 L936.8,1057.0 L938.0,1057.2 L939.2,1056.9 L940.5,1057.7 L941.8,1056.9 L943.0,1057.9 L944.2,1057.0 L945.5,1056.6 L946.8,1057.0 L948.0,1056.7 L949.2,1056.6 L950.5,1055.4 L951.8,1056.5 L953.0,1056.8 L954.2,1056.2 L955.5,1056.6 L956.8,1056.9 L958.0,1056.4 L959.2,1057.3 L960.5,1057.0 L961.8,1057.0 L963.0,1056.0 L964.2,1055.3 L965.5,1054.1 L966.8,1053.6 L968.0,1053.6 L969.2,1053.6 L970.5,1052.1 L971.8,1051.8 L973.0,1051.6 L974.2,1052.0 L975.5,1052.3 L976.8,1051.0 L978.0,1051.0 L979.2,1050.6 L980.5,1050.8 L981.8,1049.8 L983.0,1049.5 L984.2,1050.2 L985.5,1049.7 L986.8,1049.0 L988.0,1049.0 L989.2,1048.2 L990.5,1046.7 L991.8,1046.8 L993.0,1046.6 L994.2,1046.2 L995.5,1044.3 L996.8,1045.0 L998.0,1043.3 L999.2,1043.7 L1000.5,1042.8 L1001.8,1042.5 L1003.0,1041.1 L1004.2,1039.4 L1005.5,1039.7 L1006.8,1038.5 L1008.0,1038.7 L1009.2,1037.0 L1010.5,1036.5 L1011.8,1036.0 L1013.0,1034.2 L1014.2,1033.9 L1015.5,1032.9 L1016.8,1032.0 L1018.0,1031.2 L1019.2,1029.6 L1020.5,1028.4 L1021.8,1027.7 L1023.0,1027.1 L1024.2,1025.8 L1025.5,1026.0 L1026.8,1024.3 L1028.0,1023.6 L1029.2,1024.2 L1030.5,1023.3 L1031.8,1021.7 L1033.0,1021.1 L1034.2,1021.0 L1035.5,1019.8 L1036.8,1018.3 L1038.0,1017.5 L1039.2,1017.2 L1040.5,1015.2 L1041.8,1015.8 L1043.0,1014.4 L1044.2,1013.0 L1045.5,1013.1 L1046.8,1011.2 L1048.0,1010.8 L1049.2,1010.2 L1050.5,1008.8 L1051.8,1008.8 L1053.0,1007.6 L1054.2,1005.8 L1055.5,1004.8 L1056.8,1003.7 L1058.0,1003.5 L1059.2,1001.8 L1060.5,1001.2 L1061.8,1000.5 L1063.0,999.4 L1064.2,997.3 L1065.5,996.6 L1066.8,995.7 L1068.0,994.7 L1069.2,993.9 L1070.5,993.1 L1071.8,992.7 L1073.0,991.2 L1074.2,990.3 L1075.5,989.5 L1076.8,988.2 L1078.0,987.9 L1079.2,986.4 L1080.5,985.9 L1081.8,984.6 L1083.0,982.6 L1084.2,981.6 L1085.5,981.4 L1086.8,980.2 L1088.0,978.3 L1089.2,977.8 L1090.5,976.1 L1091.8,975.3 L1093.0,973.9 L1094.2,973.2 L1095.5,971.8 L1096.8,971.2 L1098.0,969.2 L1099.2,968.1 L1100.5,966.6 L1101.8,966.6 L1103.0,964.4 L1104.2,963.6 L1105.5,962.3 L1106.8,961.4 L1108.0,959.6 L1109.2,958.1 L1110.5,957.2 L1111.8,955.6 L1113.0,954.7 L1114.2,953.7 L1115.5,951.5 L1116.8,951.5 L1118.0,949.7 L1119.2,948.4 L1120.5,948.2 L1121.8,946.2 L1123.0,945.2 L1124.2,944.9 L1125.5,942.6 L1126.8,942.1 L1128.0,939.9 L1129.2,939.3 L1130.5,938.2 L1131.8,936.3 L1133.0,935.2 L1134.2,934.3 L1135.5,933.2 L1136.8,931.3 L1138.0,930.4 L1139.2,929.9 L1140.5,927.6 L1141.8,926.9 L1143.0,925.0 L1144.2,924.4 L1145.5,923.5 L1146.8,922.5 L1148.0,921.4 L1149.2,920.2 L1150.5,918.8 L1151.8,917.7 L1153.0,916.7 L1154.2,914.7 L1155.5,914.3 L1156.8,912.6 L1158.0,911.0 L1159.2,909.6 L1160.5,909.1 L1161.8,907.8 L1163.0,905.9 L1164.2,905.6 L1165.5,903.8 L1166.8,903.1 L1168.0,902.1 L1169.2,901.0 L1170.5,899.0 L1171.8,897.6 L1173.0,897.4 L1174.2,896.7 L1175.5,895.6 L1176.8,893.7 L1178.0,892.7 L1179.2,891.5 L1180.5,890.3 L1181.8,888.5 L1183.0,887.9 L1184.2,886.0 L1185.5,884.7 L1186.8,883.6 L1188.0,883.1 L1189.2,882.1 L1190.5,880.4 L1191.8,879.5 L1193.0,877.6 L1194.2,877.0 L1195.5,875.7 L1196.8,874.6 L1198.0,873.2 L1199.2,872.7 L1200.5,871.7 L1201.8,870.2 L1203.0,868.9 L1204.2,867.0 L1205.5,866.2 L1206.8,864.7 L1208.0,864.1 L1209.2,862.3 L1210.5,861.6 L1211.8,859.5 L1213.0,858.0 L1214.2,857.8 L1215.5,855.7 L1216.8,854.1 L1218.0,853.8 L1219.2,853.1 L1220.5,851.7 L1221.8,850.7 L1223.0,849.4 L1224.2,847.4 L1225.5,845.9 L1226.8,844.4 L1228.0,843.4 L1229.2,842.6 L1230.5,841.8 L1231.8,839.4 L1233.0,839.4 L1234.2,838.2 L1235.5,836.9 L1236.8,834.9 L1238.0,833.5 L1239.2,833.2 L1240.5,831.9 L1241.8,830.2 L1243.0,829.0 L1244.2,827.3 L1245.5,827.5 L1246.8,826.2 L1248.0,825.3 L1249.2,823.9 L1250.5,822.1 L1251.8,821.4 L1253.0,819.1 L1254.2,818.5 L1255.5,816.8 L1256.8,816.1 L1258.0,815.8 L1259.2,814.1 L1260.5,813.4 L1261.8,811.6 L1263.0,809.7 L1264.2,808.3 L1265.5,807.0 L1266.8,806.8 L1268.0,806.2 L1269.2,804.3 L1270.5,803.2 L1271.8,802.5 L1273.0,800.3 L1274.2,799.7 L1275.5,798.6 L1276.8,797.1 L1278.0,796.4 L1279.2,794.4 L1280.5,793.7 L1281.8,792.6 L1283.0,790.4 L1284.2,788.8 L1285.5,787.6 L1286.8,786.5 L1288.0,785.5 L1289.2,785.1 L1290.5,783.4 L1291.8,782.4 L1293.0,780.9 L1294.2,779.8 L1295.5,779.1 L1296.8,778.4 L1298.0,776.6 L1299.2,775.7 L1300.5,774.7 L1301.8,773.8 L1303.0,771.5 L1304.2,770.4 L1305.5,769.5 L1306.8,767.7 L1308.0,767.2 L1309.2,766.6 L1310.5,764.5 L1311.8,763.7 L1313.0,762.1 L1314.2,761.4 L1315.5,760.7 L1316.8,758.7 L1318.0,756.9 L1319.2,756.0 L1320.5,755.4 L1321.8,754.7 L1323.0,753.1 L1324.2,751.9 L1325.5,751.2 L1326.8,749.0 L1328.0,749.1 L1329.2,747.2 L1330.5,745.8 L1331.8,745.2 L1333.0,743.3 L1334.2,742.2 L1335.5,741.5 L1336.8,741.2 L1338.0,739.3 L1339.2,738.6 L1340.5,737.0 L1341.8,736.2 L1343.0,734.4 L1344.2,734.2 L1345.5,733.3 L1346.8,731.3 L1348.0,730.3 L1349.2,729.6 L1350.5,728.8 L1351.8,726.9 L1353.0,726.7 L1354.2,725.9 L1355.5,724.8 L1356.8,723.3 L1358.0,722.6 L1359.2,721.0 L1360.5,719.2 L1361.8,718.1 L1363.0,717.4 L1364.2,716.2 L1365.5,715.5 L1366.8,714.2 L1368.0,712.6 L1369.2,712.0 L1370.5,711.7 L1371.8,710.4 L1373.0,708.9 L1374.2,708.7 L1375.5,706.8 L1376.8,705.4 L1378.0,704.6 L1379.2,703.3 L1380.5,702.2 L1381.8,701.7 L1383.0,700.8 L1384.2,699.2 L1385.5,697.8 L1386.8,697.1 L1388.0,696.1 L1389.2,695.2 L1390.5,694.0 L1391.8,693.8 L1393.0,691.8 L1394.2,690.4 L1395.5,690.2 L1396.8,689.2 L1398.0,687.6 L1399.2,686.6 L1400.5,686.2 L1401.8,685.8 L1403.0,683.8 L1404.2,683.1 L1405.5,681.7 L1406.8,681.3 L1408.0,679.8 L1409.2,678.6 L1410.5,677.9 L1411.8,676.7 L1413.0,675.4 L1414.2,674.9 L1415.5,674.8 L1416.8,673.8 L1418.0,672.5 L1419.2,671.9 L1420.5,670.3 L1421.8,669.7 L1423.0,669.4 L1424.2,667.4 L1425.5,667.5 L1426.8,666.3 L1428.0,665.2 L1429.2,663.8 L1430.5,662.4 L1431.8,661.7 L1433.0,661.4 L1434.2,659.9 L1435.5,659.5 L1436.8,657.9 L1438.0,658.1 L1439.2,657.4 L1440.5,656.5 L1441.8,654.8 L1443.0,653.9 L1444.2,652.7 L1445.5,651.7 L1446.8,651.8 L1448.0,650.5 L1449.2,649.9 L1450.5,648.3 L1451.8,647.5 L1453.0,647.4 L1454.2,646.6 L1455.5,644.4 L1456.8,644.5 L1458.0,643.3 L1459.2,641.6 L1460.5,641.5 L1461.8,640.1 L1463.0,639.3 L1464.2,639.2 L1465.5,638.0 L1466.8,636.1 L1468.0,636.0 L1469.2,634.2 L1470.5,634.5 L1471.8,633.2 L1473.0,632.4 L1474.2,630.7 L1475.5,629.9 L1476.8,629.5 L1478.0,628.3 L1479.2,627.9 L1480.5,626.2 L1481.8,625.6 L1483.0,624.3 L1484.2,624.0 L1485.5,623.9 L1486.8,622.0 L1488.0,622.0 L1489.2,620.3 L1490.5,620.5 L1491.8,619.2 L1493.0,617.9 L1494.2,618.1 L1495.5,617.4 L1496.8,615.3 L1498.0,614.3 L1499.2,613.5 L1500.5,613.0 L1501.8,612.9 L1503.0,611.9 L1504.2,610.3 L1505.5,609.2 L1506.8,609.2 L1508.0,608.5 L1509.2,607.2 L1510.5,606.9 L1511.8,606.6 L1513.0,604.6 L1514.2,604.0 L1515.5,603.9 L1516.8,602.0 L1518.0,601.2 L1519.2,600.4 L1520.5,600.4 L1521.8,598.7 L1523.0,597.8 L1524.2,597.8 L1525.5,597.2 L1526.8,596.4 L1528.0,595.1 L1529.2,595.0 L1530.5,593.0 L1531.8,592.5 L1533.0,591.5 L1534.2,591.0 L1535.5,589.7 L1536.8,588.8 L1538.0,589.3 L1539.2,587.5 L1540.5,587.0 L1541.8,586.8 L1543.0,585.2 L1544.2,584.5 L1545.5,584.1 L1546.8,582.6 L1548.0,581.8 L1549.2,582.1 L1550.5,581.1 L1551.8,580.1 L1553.0,579.8 L1554.2,579.6 L1555.5,579.0 L1556.8,577.9 L1558.0,576.8 L1559.2,576.8 L1560.5,575.0 L1561.8,574.9 L1563.0,573.2 L1564.2,573.8 L1565.5,573.0 L1566.8,572.2 L1568.0,571.6 L1569.2,571.0 L1570.5,570.3 L1571.8,569.4 L1573.0,568.8 L1574.2,567.2 L1575.5,567.1 L1576.8,566.9 L1578.0,565.7 L1579.2,565.7 L1580.5,564.3 L1581.8,563.2 L1583.0,563.3 L1584.2,562.2 L1585.5,561.9 L1586.8,561.6 L1588.0,561.3 L1589.2,559.6 L1590.5,559.7 L1591.8,558.4 L1593.0,557.4 L1594.2,556.8 L1595.5,557.1 L1596.8,556.5 L1598.0,555.4 L1599.2,554.6 L1600.5,555.0 L1601.8,553.1 L1603.0,552.6 L1604.2,552.7 L1605.5,552.2 L1606.8,550.9 L1608.0,550.6 L1609.2,549.9 L1610.5,549.6 L1611.8,549.0 L1613.0,548.5 L1614.2,548.1 L1615.5,548.1 L1616.8,547.4 L1618.0,547.7 L1619.2,546.5 L1620.5,545.4 L1621.8,545.5 L1623.0,545.4 L1624.2,544.6 L1625.5,543.9 L1626.8,544.6 L1628.0,544.4 L1629.2,544.2 L1630.5,543.5 L1631.8,543.0 L1633.0,542.4 L1634.2,542.1 L1635.5,541.6 L1636.0,542.6"/>
</g>
<g fill="none" stroke-linecap="round" stroke-width="9.6" shape-rendering="crispEdges">
<line x1="1283.7" y1="126.6" x2="1446.4" y2="126.6" stroke="#000"/>
<line x1="1283.7" y1="220.1" x2="1446.4" y2="220.1" stroke="#0000ff"/>
<line x1="1283.7" y1="313.6" x2="1446.4" y2="313.6" stroke="#ff0000"/>
</g>
<text transform="translate(1468.00,152.80) scale(1,1.055)" font-size="74.7" text-anchor="start">1</text>
<text transform="translate(1466.50,246.20) scale(1,1.047)" font-size="74.7" text-anchor="start">2</text>
<text transform="translate(1466.50,339.30) scale(1,1.047)" font-size="74.7" text-anchor="start">3</text>
<text transform="translate(477.10,1191.40) scale(1,1.045)" font-size="52.3" text-anchor="middle" letter-spacing="-0.6" stroke="#000" stroke-width="0.6">2000</text>
<text transform="translate(748.63,1191.40) scale(1,1.045)" font-size="52.3" text-anchor="middle" letter-spacing="-0.6" stroke="#000" stroke-width="0.6">3000</text>
<text transform="translate(1020.16,1191.40) scale(1,1.045)" font-size="52.3" text-anchor="middle" letter-spacing="-0.6" stroke="#000" stroke-width="0.6">4000</text>
<text transform="translate(1291.69,1191.40) scale(1,1.045)" font-size="52.3" text-anchor="middle" letter-spacing="-0.6" stroke="#000" stroke-width="0.6">5000</text>
<text transform="translate(1563.22,1191.40) scale(1,1.045)" font-size="52.3" text-anchor="middle" letter-spacing="-0.6" stroke="#000" stroke-width="0.6">6000</text>
<text transform="translate(189.10,260.90) scale(1,1.045)" font-size="52.3" text-anchor="end" letter-spacing="-0.6" stroke="#000" stroke-width="0.6">50</text>
<text transform="translate(189.10,531.20) scale(1,1.045)" font-size="52.3" text-anchor="end" letter-spacing="-0.6" stroke="#000" stroke-width="0.6">0</text>
<text transform="translate(189.10,801.20) scale(1,1.045)" font-size="52.3" text-anchor="end" letter-spacing="-0.6" stroke="#000" stroke-width="0.6">-50</text>
<text transform="translate(189.10,1071.00) scale(1,1.045)" font-size="52.3" text-anchor="end" letter-spacing="-0.6" stroke="#000" stroke-width="0.6">-100</text>
<text transform="translate(599.00,1314.10) scale(1,1.06)" font-size="84" text-anchor="start">Magnetic field (G)</text>
<text transform="translate(96.1,948.9) rotate(-90) scale(1.0424,1.025)" font-size="84">EPR signal (arb. un.)</text>
</svg>
</body></html>
